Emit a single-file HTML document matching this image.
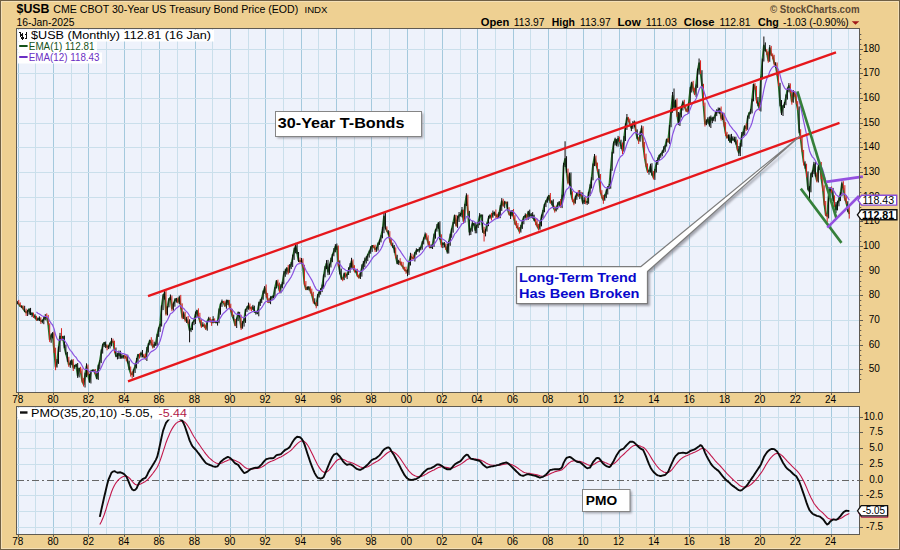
<!DOCTYPE html><html><head><meta charset="utf-8"><title>$USB</title>
<style>html,body{margin:0;padding:0;background:#EED092;}svg{display:block}text{font-family:"Liberation Sans",sans-serif;}</style></head><body>
<svg width="900" height="550" viewBox="0 0 900 550">
<rect x="0" y="0" width="900" height="550" fill="#EED092"/>
<rect x="0.5" y="0.5" width="899" height="549" fill="none" stroke="#6f5f45" stroke-width="1"/>
<rect x="1.5" y="1.5" width="897" height="547" fill="none" stroke="#F4E0B8" stroke-width="1"/>
<rect x="16" y="28" width="844" height="364" fill="#EEF2FB"/>
<line x1="18.5" y1="29" x2="18.5" y2="392" stroke="#A4C9DD" stroke-width="1"/>
<line x1="35.5" y1="29" x2="35.5" y2="392" stroke="#CADFEB" stroke-width="1"/>
<line x1="53.5" y1="29" x2="53.5" y2="392" stroke="#A4C9DD" stroke-width="1"/>
<line x1="71.5" y1="29" x2="71.5" y2="392" stroke="#CADFEB" stroke-width="1"/>
<line x1="88.5" y1="29" x2="88.5" y2="392" stroke="#A4C9DD" stroke-width="1"/>
<line x1="106.5" y1="29" x2="106.5" y2="392" stroke="#CADFEB" stroke-width="1"/>
<line x1="124.5" y1="29" x2="124.5" y2="392" stroke="#A4C9DD" stroke-width="1"/>
<line x1="141.5" y1="29" x2="141.5" y2="392" stroke="#CADFEB" stroke-width="1"/>
<line x1="159.5" y1="29" x2="159.5" y2="392" stroke="#A4C9DD" stroke-width="1"/>
<line x1="177.5" y1="29" x2="177.5" y2="392" stroke="#CADFEB" stroke-width="1"/>
<line x1="195.5" y1="29" x2="195.5" y2="392" stroke="#A4C9DD" stroke-width="1"/>
<line x1="212.5" y1="29" x2="212.5" y2="392" stroke="#CADFEB" stroke-width="1"/>
<line x1="230.5" y1="29" x2="230.5" y2="392" stroke="#A4C9DD" stroke-width="1"/>
<line x1="248.5" y1="29" x2="248.5" y2="392" stroke="#CADFEB" stroke-width="1"/>
<line x1="265.5" y1="29" x2="265.5" y2="392" stroke="#A4C9DD" stroke-width="1"/>
<line x1="283.5" y1="29" x2="283.5" y2="392" stroke="#CADFEB" stroke-width="1"/>
<line x1="301.5" y1="29" x2="301.5" y2="392" stroke="#A4C9DD" stroke-width="1"/>
<line x1="318.5" y1="29" x2="318.5" y2="392" stroke="#CADFEB" stroke-width="1"/>
<line x1="336.5" y1="29" x2="336.5" y2="392" stroke="#A4C9DD" stroke-width="1"/>
<line x1="354.5" y1="29" x2="354.5" y2="392" stroke="#CADFEB" stroke-width="1"/>
<line x1="371.5" y1="29" x2="371.5" y2="392" stroke="#A4C9DD" stroke-width="1"/>
<line x1="389.5" y1="29" x2="389.5" y2="392" stroke="#CADFEB" stroke-width="1"/>
<line x1="407.5" y1="29" x2="407.5" y2="392" stroke="#A4C9DD" stroke-width="1"/>
<line x1="424.5" y1="29" x2="424.5" y2="392" stroke="#CADFEB" stroke-width="1"/>
<line x1="442.5" y1="29" x2="442.5" y2="392" stroke="#A4C9DD" stroke-width="1"/>
<line x1="460.5" y1="29" x2="460.5" y2="392" stroke="#CADFEB" stroke-width="1"/>
<line x1="477.5" y1="29" x2="477.5" y2="392" stroke="#A4C9DD" stroke-width="1"/>
<line x1="495.5" y1="29" x2="495.5" y2="392" stroke="#CADFEB" stroke-width="1"/>
<line x1="513.5" y1="29" x2="513.5" y2="392" stroke="#A4C9DD" stroke-width="1"/>
<line x1="530.5" y1="29" x2="530.5" y2="392" stroke="#CADFEB" stroke-width="1"/>
<line x1="548.5" y1="29" x2="548.5" y2="392" stroke="#A4C9DD" stroke-width="1"/>
<line x1="566.5" y1="29" x2="566.5" y2="392" stroke="#CADFEB" stroke-width="1"/>
<line x1="583.5" y1="29" x2="583.5" y2="392" stroke="#A4C9DD" stroke-width="1"/>
<line x1="601.5" y1="29" x2="601.5" y2="392" stroke="#CADFEB" stroke-width="1"/>
<line x1="619.5" y1="29" x2="619.5" y2="392" stroke="#A4C9DD" stroke-width="1"/>
<line x1="636.5" y1="29" x2="636.5" y2="392" stroke="#CADFEB" stroke-width="1"/>
<line x1="654.5" y1="29" x2="654.5" y2="392" stroke="#A4C9DD" stroke-width="1"/>
<line x1="672.5" y1="29" x2="672.5" y2="392" stroke="#CADFEB" stroke-width="1"/>
<line x1="689.5" y1="29" x2="689.5" y2="392" stroke="#A4C9DD" stroke-width="1"/>
<line x1="707.5" y1="29" x2="707.5" y2="392" stroke="#CADFEB" stroke-width="1"/>
<line x1="725.5" y1="29" x2="725.5" y2="392" stroke="#A4C9DD" stroke-width="1"/>
<line x1="742.5" y1="29" x2="742.5" y2="392" stroke="#CADFEB" stroke-width="1"/>
<line x1="760.5" y1="29" x2="760.5" y2="392" stroke="#A4C9DD" stroke-width="1"/>
<line x1="778.5" y1="29" x2="778.5" y2="392" stroke="#CADFEB" stroke-width="1"/>
<line x1="795.5" y1="29" x2="795.5" y2="392" stroke="#A4C9DD" stroke-width="1"/>
<line x1="813.5" y1="29" x2="813.5" y2="392" stroke="#CADFEB" stroke-width="1"/>
<line x1="831.5" y1="29" x2="831.5" y2="392" stroke="#A4C9DD" stroke-width="1"/>
<line x1="848.5" y1="29" x2="848.5" y2="392" stroke="#CADFEB" stroke-width="1"/>
<line x1="17" y1="369.5" x2="860" y2="369.5" stroke="#CADFEB" stroke-width="1"/>
<line x1="17" y1="345.5" x2="860" y2="345.5" stroke="#CADFEB" stroke-width="1"/>
<line x1="17" y1="320.5" x2="860" y2="320.5" stroke="#CADFEB" stroke-width="1"/>
<line x1="17" y1="295.5" x2="860" y2="295.5" stroke="#CADFEB" stroke-width="1"/>
<line x1="17" y1="271.5" x2="860" y2="271.5" stroke="#CADFEB" stroke-width="1"/>
<line x1="17" y1="246.5" x2="860" y2="246.5" stroke="#CADFEB" stroke-width="1"/>
<line x1="17" y1="221.5" x2="860" y2="221.5" stroke="#CADFEB" stroke-width="1"/>
<line x1="17" y1="197.5" x2="860" y2="197.5" stroke="#CADFEB" stroke-width="1"/>
<line x1="17" y1="172.5" x2="860" y2="172.5" stroke="#CADFEB" stroke-width="1"/>
<line x1="17" y1="147.5" x2="860" y2="147.5" stroke="#CADFEB" stroke-width="1"/>
<line x1="17" y1="123.5" x2="860" y2="123.5" stroke="#CADFEB" stroke-width="1"/>
<line x1="17" y1="98.5" x2="860" y2="98.5" stroke="#CADFEB" stroke-width="1"/>
<line x1="17" y1="73.5" x2="860" y2="73.5" stroke="#CADFEB" stroke-width="1"/>
<line x1="17" y1="49.5" x2="860" y2="49.5" stroke="#CADFEB" stroke-width="1"/>
<rect x="16" y="406" width="844" height="128" fill="#EEF2FB"/>
<line x1="18.5" y1="407" x2="18.5" y2="534" stroke="#A4C9DD" stroke-width="1"/>
<line x1="35.5" y1="407" x2="35.5" y2="534" stroke="#CADFEB" stroke-width="1"/>
<line x1="53.5" y1="407" x2="53.5" y2="534" stroke="#A4C9DD" stroke-width="1"/>
<line x1="71.5" y1="407" x2="71.5" y2="534" stroke="#CADFEB" stroke-width="1"/>
<line x1="88.5" y1="407" x2="88.5" y2="534" stroke="#A4C9DD" stroke-width="1"/>
<line x1="106.5" y1="407" x2="106.5" y2="534" stroke="#CADFEB" stroke-width="1"/>
<line x1="124.5" y1="407" x2="124.5" y2="534" stroke="#A4C9DD" stroke-width="1"/>
<line x1="141.5" y1="407" x2="141.5" y2="534" stroke="#CADFEB" stroke-width="1"/>
<line x1="159.5" y1="407" x2="159.5" y2="534" stroke="#A4C9DD" stroke-width="1"/>
<line x1="177.5" y1="407" x2="177.5" y2="534" stroke="#CADFEB" stroke-width="1"/>
<line x1="195.5" y1="407" x2="195.5" y2="534" stroke="#A4C9DD" stroke-width="1"/>
<line x1="212.5" y1="407" x2="212.5" y2="534" stroke="#CADFEB" stroke-width="1"/>
<line x1="230.5" y1="407" x2="230.5" y2="534" stroke="#A4C9DD" stroke-width="1"/>
<line x1="248.5" y1="407" x2="248.5" y2="534" stroke="#CADFEB" stroke-width="1"/>
<line x1="265.5" y1="407" x2="265.5" y2="534" stroke="#A4C9DD" stroke-width="1"/>
<line x1="283.5" y1="407" x2="283.5" y2="534" stroke="#CADFEB" stroke-width="1"/>
<line x1="301.5" y1="407" x2="301.5" y2="534" stroke="#A4C9DD" stroke-width="1"/>
<line x1="318.5" y1="407" x2="318.5" y2="534" stroke="#CADFEB" stroke-width="1"/>
<line x1="336.5" y1="407" x2="336.5" y2="534" stroke="#A4C9DD" stroke-width="1"/>
<line x1="354.5" y1="407" x2="354.5" y2="534" stroke="#CADFEB" stroke-width="1"/>
<line x1="371.5" y1="407" x2="371.5" y2="534" stroke="#A4C9DD" stroke-width="1"/>
<line x1="389.5" y1="407" x2="389.5" y2="534" stroke="#CADFEB" stroke-width="1"/>
<line x1="407.5" y1="407" x2="407.5" y2="534" stroke="#A4C9DD" stroke-width="1"/>
<line x1="424.5" y1="407" x2="424.5" y2="534" stroke="#CADFEB" stroke-width="1"/>
<line x1="442.5" y1="407" x2="442.5" y2="534" stroke="#A4C9DD" stroke-width="1"/>
<line x1="460.5" y1="407" x2="460.5" y2="534" stroke="#CADFEB" stroke-width="1"/>
<line x1="477.5" y1="407" x2="477.5" y2="534" stroke="#A4C9DD" stroke-width="1"/>
<line x1="495.5" y1="407" x2="495.5" y2="534" stroke="#CADFEB" stroke-width="1"/>
<line x1="513.5" y1="407" x2="513.5" y2="534" stroke="#A4C9DD" stroke-width="1"/>
<line x1="530.5" y1="407" x2="530.5" y2="534" stroke="#CADFEB" stroke-width="1"/>
<line x1="548.5" y1="407" x2="548.5" y2="534" stroke="#A4C9DD" stroke-width="1"/>
<line x1="566.5" y1="407" x2="566.5" y2="534" stroke="#CADFEB" stroke-width="1"/>
<line x1="583.5" y1="407" x2="583.5" y2="534" stroke="#A4C9DD" stroke-width="1"/>
<line x1="601.5" y1="407" x2="601.5" y2="534" stroke="#CADFEB" stroke-width="1"/>
<line x1="619.5" y1="407" x2="619.5" y2="534" stroke="#A4C9DD" stroke-width="1"/>
<line x1="636.5" y1="407" x2="636.5" y2="534" stroke="#CADFEB" stroke-width="1"/>
<line x1="654.5" y1="407" x2="654.5" y2="534" stroke="#A4C9DD" stroke-width="1"/>
<line x1="672.5" y1="407" x2="672.5" y2="534" stroke="#CADFEB" stroke-width="1"/>
<line x1="689.5" y1="407" x2="689.5" y2="534" stroke="#A4C9DD" stroke-width="1"/>
<line x1="707.5" y1="407" x2="707.5" y2="534" stroke="#CADFEB" stroke-width="1"/>
<line x1="725.5" y1="407" x2="725.5" y2="534" stroke="#A4C9DD" stroke-width="1"/>
<line x1="742.5" y1="407" x2="742.5" y2="534" stroke="#CADFEB" stroke-width="1"/>
<line x1="760.5" y1="407" x2="760.5" y2="534" stroke="#A4C9DD" stroke-width="1"/>
<line x1="778.5" y1="407" x2="778.5" y2="534" stroke="#CADFEB" stroke-width="1"/>
<line x1="795.5" y1="407" x2="795.5" y2="534" stroke="#A4C9DD" stroke-width="1"/>
<line x1="813.5" y1="407" x2="813.5" y2="534" stroke="#CADFEB" stroke-width="1"/>
<line x1="831.5" y1="407" x2="831.5" y2="534" stroke="#A4C9DD" stroke-width="1"/>
<line x1="848.5" y1="407" x2="848.5" y2="534" stroke="#CADFEB" stroke-width="1"/>
<line x1="17" y1="417.5" x2="860" y2="417.5" stroke="#CADFEB" stroke-width="1"/>
<line x1="17" y1="432.5" x2="860" y2="432.5" stroke="#CADFEB" stroke-width="1"/>
<line x1="17" y1="448.5" x2="860" y2="448.5" stroke="#CADFEB" stroke-width="1"/>
<line x1="17" y1="464.5" x2="860" y2="464.5" stroke="#CADFEB" stroke-width="1"/>
<line x1="17" y1="495.5" x2="860" y2="495.5" stroke="#CADFEB" stroke-width="1"/>
<line x1="17" y1="511.5" x2="860" y2="511.5" stroke="#CADFEB" stroke-width="1"/>
<line x1="17" y1="527.5" x2="860" y2="527.5" stroke="#CADFEB" stroke-width="1"/>
<defs><clipPath id="c1"><rect x="17" y="29" width="843" height="363"/></clipPath><clipPath id="c2"><rect x="17" y="407" width="843" height="127"/></clipPath>
<filter id="sh" x="-10%" y="-10%" width="130%" height="140%"><feGaussianBlur stdDeviation="0.9"/></filter></defs>
<g clip-path="url(#c1)">
<polyline fill="none" stroke="#267029" stroke-width="1.8" stroke-linejoin="round" points="17.3,302.4 18.8,304.0 20.2,306.3 21.7,306.2 23.2,308.8 24.7,311.1 26.1,312.6 27.6,311.5 29.1,309.2 30.6,314.2 32.0,313.6 33.5,315.8 35.0,316.5 36.4,319.6 37.9,319.2 39.4,318.5 40.9,321.0 42.3,321.1 43.8,319.0 45.3,316.8 46.8,317.7 48.2,323.9 49.7,339.6 51.2,335.7 52.6,333.6 54.1,350.7 55.6,366.8 57.1,361.5 58.5,349.0 60.0,336.3 61.5,338.7 62.9,336.6 64.4,347.3 65.9,353.6 67.4,358.7 68.8,364.7 70.3,363.3 71.8,360.7 73.3,367.8 74.7,365.8 76.2,365.0 77.7,375.6 79.1,368.4 80.6,371.1 82.1,380.7 83.6,384.4 85.0,375.5 86.5,366.2 88.0,374.5 89.5,381.9 90.9,371.5 92.4,370.4 93.9,370.6 95.3,373.8 96.8,378.3 98.3,366.2 99.8,361.2 101.2,352.8 102.7,345.6 104.2,342.8 105.7,345.1 107.1,347.0 108.6,346.3 110.1,343.3 111.5,341.3 113.0,341.7 114.5,350.3 116.0,355.8 117.4,356.0 118.9,353.7 120.4,356.0 121.8,357.2 123.3,355.9 124.8,356.4 126.3,358.0 127.7,361.7 129.2,368.9 130.7,373.4 132.2,374.5 133.6,370.2 135.1,366.5 136.6,360.8 138.0,354.9 139.5,355.7 141.0,353.4 142.5,354.7 143.9,356.6 145.4,358.5 146.9,350.3 148.4,344.7 149.8,340.6 151.3,343.0 152.8,346.7 154.2,344.7 155.7,344.0 157.2,335.1 158.7,328.7 160.1,324.6 161.6,306.8 163.1,296.3 164.6,292.6 166.0,313.6 167.5,306.7 169.0,299.2 170.4,297.4 171.9,308.6 173.4,303.8 174.9,300.4 176.3,298.8 177.8,301.9 179.3,297.7 180.7,305.7 182.2,317.1 183.7,314.0 185.2,319.9 186.6,319.4 188.1,322.6 189.6,330.3 191.1,328.9 192.5,322.7 194.0,320.8 195.5,314.3 196.9,310.8 198.4,316.2 199.9,321.0 201.4,325.9 202.8,325.2 204.3,325.7 205.8,328.6 207.3,321.5 208.7,318.7 210.2,320.0 211.7,322.5 213.1,319.7 214.6,322.2 216.1,322.4 217.6,321.9 219.0,311.4 220.5,304.3 222.0,301.7 223.5,302.5 224.9,305.8 226.4,302.0 227.9,300.6 229.3,305.2 230.8,310.1 232.3,315.9 233.8,319.7 235.2,325.2 236.7,319.1 238.2,312.9 239.6,316.1 241.1,327.6 242.6,323.3 244.1,319.9 245.5,309.9 247.0,308.0 248.5,305.6 250.0,307.9 251.4,308.2 252.9,307.3 254.4,311.8 255.8,311.7 257.3,313.2 258.8,304.7 260.3,301.7 261.7,298.7 263.2,292.4 264.7,287.8 266.2,294.1 267.6,299.5 269.1,302.2 270.6,298.1 272.0,297.1 273.5,295.7 275.0,288.0 276.5,281.0 277.9,284.7 279.4,290.2 280.9,286.8 282.4,283.4 283.8,274.4 285.3,271.5 286.8,268.1 288.2,272.0 289.7,267.0 291.2,264.1 292.7,257.6 294.1,250.7 295.6,246.1 297.1,252.9 298.5,260.5 300.0,261.4 301.5,260.4 303.0,267.6 304.4,283.6 305.9,289.3 307.4,287.7 308.9,287.5 310.3,290.6 311.8,294.4 313.3,300.7 314.7,303.3 316.2,305.5 317.7,296.2 319.2,292.1 320.6,290.7 322.1,287.1 323.6,276.5 325.1,268.0 326.5,263.3 328.0,271.8 329.5,265.6 330.9,261.1 332.4,255.1 333.9,251.4 335.4,246.4 336.8,246.4 338.3,263.5 339.8,271.8 341.3,277.9 342.7,279.2 344.2,273.9 345.7,276.4 347.1,274.1 348.6,270.3 350.1,266.4 351.6,261.0 353.0,267.5 354.5,271.0 356.0,271.8 357.4,275.6 358.9,277.4 360.4,273.6 361.9,267.7 363.3,263.9 364.8,260.8 366.3,258.4 367.8,254.8 369.2,252.3 370.7,248.6 372.2,245.8 373.6,246.1 375.1,249.3 376.6,248.4 378.1,243.9 379.5,241.3 381.0,236.3 382.5,230.0 384.0,216.3 385.4,227.5 386.9,230.9 388.4,233.5 389.8,239.5 391.3,244.2 392.8,246.3 394.3,249.4 395.7,255.9 397.2,263.0 398.7,261.5 400.2,262.2 401.6,265.3 403.1,267.3 404.6,269.7 406.0,270.7 407.5,272.4 409.0,262.9 410.5,256.1 411.9,257.8 413.4,258.2 414.9,253.3 416.3,250.8 417.8,249.9 419.3,249.6 420.8,247.5 422.2,243.2 423.7,239.0 425.2,234.8 426.7,237.7 428.1,242.4 429.6,247.0 431.1,247.0 432.5,245.1 434.0,236.2 435.5,230.4 437.0,227.3 438.4,223.0 439.9,237.2 441.4,244.7 442.9,243.4 444.3,244.4 445.8,247.2 447.3,251.7 448.7,242.5 450.2,236.2 451.7,229.3 453.2,223.1 454.6,215.6 456.1,225.2 457.6,218.7 459.1,215.4 460.5,214.6 462.0,210.3 463.5,221.2 464.9,205.5 466.4,195.9 467.9,211.8 469.4,232.0 470.8,229.9 472.3,223.8 473.8,223.7 475.2,230.1 476.7,226.3 478.2,222.4 479.7,216.0 481.1,215.2 482.6,229.6 484.1,233.1 485.6,230.3 487.0,224.8 488.5,218.3 490.0,215.6 491.4,217.1 492.9,213.8 494.4,212.8 495.9,215.0 497.3,217.0 498.8,215.5 500.3,208.0 501.8,201.1 503.2,205.4 504.7,202.4 506.2,202.7 507.6,209.3 509.1,213.9 510.6,215.5 512.1,211.0 513.5,216.4 515.0,223.2 516.5,225.5 518.0,228.4 519.4,231.5 520.9,227.6 522.4,221.1 523.8,217.1 525.3,215.7 526.8,216.9 528.3,212.0 529.7,215.0 531.2,215.2 532.7,215.3 534.1,219.6 535.6,221.9 537.1,225.7 538.6,228.9 540.0,224.0 541.5,216.8 543.0,211.2 544.5,204.8 545.9,201.5 547.4,199.1 548.9,195.6 550.3,202.5 551.8,201.4 553.3,207.4 554.8,210.4 556.2,207.7 557.7,204.7 559.2,202.4 560.7,206.4 562.1,196.3 563.6,165.9 565.1,158.9 566.5,171.8 568.0,182.6 569.5,174.3 571.0,193.5 572.4,199.5 573.9,202.8 575.4,197.7 576.9,193.5 578.3,195.7 579.8,192.9 581.3,195.8 582.7,202.4 584.2,200.5 585.7,201.9 587.2,202.1 588.6,193.1 590.1,187.3 591.6,178.3 593.0,165.2 594.5,156.7 596.0,163.2 597.5,169.7 598.9,176.3 600.4,191.6 601.9,196.8 603.4,200.1 604.8,196.1 606.3,191.7 607.8,187.3 609.2,186.8 610.7,169.9 612.2,152.8 613.7,143.3 615.1,139.5 616.6,143.9 618.1,138.6 619.6,141.3 621.0,145.6 622.5,150.6 624.0,139.0 625.4,126.7 626.9,117.9 628.4,119.2 629.9,124.6 631.3,128.0 632.8,124.2 634.3,122.5 635.8,130.8 637.2,138.1 638.7,140.7 640.2,134.5 641.6,128.3 643.1,145.0 644.6,156.8 646.1,165.7 647.5,171.2 649.0,171.0 650.5,166.0 651.9,173.8 653.4,177.5 654.9,170.3 656.4,163.5 657.8,160.0 659.3,155.4 660.8,154.3 662.3,152.2 663.7,149.4 665.2,146.1 666.7,139.5 668.1,141.7 669.6,126.0 671.1,110.8 672.6,95.5 674.0,107.0 675.5,100.7 677.0,113.7 678.5,123.8 679.9,115.1 681.4,107.2 682.9,102.4 684.3,106.0 685.8,109.6 687.3,111.5 688.8,103.2 690.2,90.2 691.7,82.8 693.2,88.8 694.6,93.8 696.1,85.2 697.6,71.5 699.1,63.1 700.5,72.0 702.0,85.0 703.5,105.3 705.0,123.9 706.4,122.0 707.9,119.3 709.4,124.6 710.8,117.9 712.3,120.0 713.8,118.1 715.3,114.6 716.7,111.9 718.2,110.6 719.7,108.9 721.2,118.1 722.6,115.8 724.1,124.0 725.6,133.3 727.0,137.5 728.5,135.4 730.0,141.9 731.5,137.2 732.9,139.9 734.4,139.3 735.9,141.8 737.4,149.0 738.8,152.8 740.3,145.9 741.8,135.3 743.2,132.5 744.7,126.2 746.2,128.5 747.7,118.0 749.1,113.2 750.6,111.6 752.1,100.1 753.6,84.4 755.0,87.3 756.5,100.0 758.0,103.8 759.4,108.9 760.9,78.3 762.4,60.7 763.9,45.4 765.3,50.2 766.8,52.1 768.3,60.7 769.7,47.9 771.2,54.7 772.7,55.9 774.2,63.0 775.6,65.3 777.1,73.6 778.6,84.6 780.1,103.2 781.5,112.8 783.0,106.4 784.5,104.0 785.9,97.6 787.4,89.5 788.9,85.9 790.4,91.3 791.8,101.7 793.3,92.8 794.8,94.0 796.3,102.3 797.7,109.0 799.2,130.2 800.7,139.0 802.1,151.0 803.6,162.1 805.1,165.3 806.6,174.1 808.0,188.6 809.5,191.7 811.0,174.4 812.5,172.1 813.9,164.5 815.4,174.8 816.9,180.7 818.3,167.3 819.8,163.8 821.3,178.0 822.8,188.4 824.2,202.9 825.7,214.7 827.2,216.0 828.6,195.9 830.1,188.4 831.6,190.4 833.1,197.7 834.5,204.0 836.0,209.5 837.5,203.0 839.0,200.3 840.4,194.3 841.9,183.8 843.4,188.2 844.8,198.5 846.3,202.8 847.8,209.4 849.3,214.1"/>
<line x1="17.30" y1="300.9" x2="17.30" y2="304.3" stroke="#0c0c0c" stroke-width="1.0"/>
<line x1="18.77" y1="299.9" x2="18.77" y2="304.7" stroke="#d8201c" stroke-width="1.0"/>
<line x1="20.25" y1="302.4" x2="20.25" y2="307.0" stroke="#d8201c" stroke-width="1.0"/>
<line x1="21.72" y1="305.6" x2="21.72" y2="308.1" stroke="#0c0c0c" stroke-width="1.0"/>
<line x1="23.19" y1="305.5" x2="23.19" y2="309.6" stroke="#d8201c" stroke-width="1.0"/>
<line x1="24.66" y1="305.8" x2="24.66" y2="312.0" stroke="#0c0c0c" stroke-width="1.0"/>
<line x1="26.14" y1="308.7" x2="26.14" y2="315.9" stroke="#d8201c" stroke-width="1.0"/>
<line x1="27.61" y1="309.8" x2="27.61" y2="316.0" stroke="#0c0c0c" stroke-width="1.0"/>
<line x1="29.08" y1="308.6" x2="29.08" y2="314.6" stroke="#0c0c0c" stroke-width="1.0"/>
<line x1="30.55" y1="307.9" x2="30.55" y2="315.1" stroke="#0c0c0c" stroke-width="1.0"/>
<line x1="32.03" y1="312.2" x2="32.03" y2="317.1" stroke="#0c0c0c" stroke-width="1.0"/>
<line x1="33.50" y1="312.6" x2="33.50" y2="318.0" stroke="#d8201c" stroke-width="1.0"/>
<line x1="34.97" y1="314.2" x2="34.97" y2="318.7" stroke="#0c0c0c" stroke-width="1.0"/>
<line x1="36.44" y1="315.8" x2="36.44" y2="320.7" stroke="#d8201c" stroke-width="1.0"/>
<line x1="37.92" y1="317.4" x2="37.92" y2="321.0" stroke="#0c0c0c" stroke-width="1.0"/>
<line x1="39.39" y1="316.3" x2="39.39" y2="321.1" stroke="#0c0c0c" stroke-width="1.0"/>
<line x1="40.86" y1="317.2" x2="40.86" y2="323.9" stroke="#d8201c" stroke-width="1.0"/>
<line x1="42.33" y1="319.7" x2="42.33" y2="323.3" stroke="#0c0c0c" stroke-width="1.0"/>
<line x1="43.81" y1="316.9" x2="43.81" y2="324.2" stroke="#0c0c0c" stroke-width="1.0"/>
<line x1="45.28" y1="314.1" x2="45.28" y2="320.3" stroke="#0c0c0c" stroke-width="1.0"/>
<line x1="46.75" y1="313.4" x2="46.75" y2="318.5" stroke="#d8201c" stroke-width="1.0"/>
<line x1="48.22" y1="314.9" x2="48.22" y2="324.9" stroke="#d8201c" stroke-width="1.0"/>
<line x1="49.70" y1="323.3" x2="49.70" y2="342.1" stroke="#d8201c" stroke-width="1.0"/>
<line x1="51.17" y1="333.5" x2="51.17" y2="342.8" stroke="#0c0c0c" stroke-width="1.0"/>
<line x1="52.64" y1="332.1" x2="52.64" y2="338.3" stroke="#0c0c0c" stroke-width="1.0"/>
<line x1="54.11" y1="331.3" x2="54.11" y2="353.0" stroke="#d8201c" stroke-width="1.0"/>
<line x1="55.59" y1="347.7" x2="55.59" y2="370.2" stroke="#d8201c" stroke-width="1.0"/>
<line x1="57.06" y1="359.0" x2="57.06" y2="367.5" stroke="#0c0c0c" stroke-width="1.0"/>
<line x1="58.53" y1="346.4" x2="58.53" y2="363.9" stroke="#0c0c0c" stroke-width="1.0"/>
<line x1="60.00" y1="332.9" x2="60.00" y2="352.0" stroke="#0c0c0c" stroke-width="1.0"/>
<line x1="61.48" y1="328.2" x2="61.48" y2="340.4" stroke="#d8201c" stroke-width="1.0"/>
<line x1="62.95" y1="336.1" x2="62.95" y2="340.6" stroke="#0c0c0c" stroke-width="1.0"/>
<line x1="64.42" y1="335.6" x2="64.42" y2="348.2" stroke="#0c0c0c" stroke-width="1.0"/>
<line x1="65.89" y1="344.5" x2="65.89" y2="354.5" stroke="#0c0c0c" stroke-width="1.0"/>
<line x1="67.37" y1="351.9" x2="67.37" y2="361.8" stroke="#0c0c0c" stroke-width="1.0"/>
<line x1="68.84" y1="356.8" x2="68.84" y2="366.9" stroke="#d8201c" stroke-width="1.0"/>
<line x1="70.31" y1="360.4" x2="70.31" y2="367.8" stroke="#0c0c0c" stroke-width="1.0"/>
<line x1="71.78" y1="359.4" x2="71.78" y2="365.1" stroke="#0c0c0c" stroke-width="1.0"/>
<line x1="73.26" y1="359.1" x2="73.26" y2="371.0" stroke="#d8201c" stroke-width="1.0"/>
<line x1="74.73" y1="364.9" x2="74.73" y2="368.9" stroke="#0c0c0c" stroke-width="1.0"/>
<line x1="76.20" y1="363.8" x2="76.20" y2="367.0" stroke="#0c0c0c" stroke-width="1.0"/>
<line x1="77.67" y1="363.0" x2="77.67" y2="377.9" stroke="#0c0c0c" stroke-width="1.0"/>
<line x1="79.15" y1="367.9" x2="79.15" y2="377.4" stroke="#0c0c0c" stroke-width="1.0"/>
<line x1="80.62" y1="366.8" x2="80.62" y2="373.3" stroke="#d8201c" stroke-width="1.0"/>
<line x1="82.09" y1="368.5" x2="82.09" y2="382.7" stroke="#d8201c" stroke-width="1.0"/>
<line x1="83.56" y1="378.1" x2="83.56" y2="386.5" stroke="#d8201c" stroke-width="1.0"/>
<line x1="85.04" y1="372.7" x2="85.04" y2="387.5" stroke="#0c0c0c" stroke-width="1.0"/>
<line x1="86.51" y1="363.3" x2="86.51" y2="377.2" stroke="#0c0c0c" stroke-width="1.0"/>
<line x1="87.98" y1="364.5" x2="87.98" y2="375.3" stroke="#d8201c" stroke-width="1.0"/>
<line x1="89.45" y1="373.8" x2="89.45" y2="382.6" stroke="#0c0c0c" stroke-width="1.0"/>
<line x1="90.92" y1="370.5" x2="90.92" y2="383.5" stroke="#0c0c0c" stroke-width="1.0"/>
<line x1="92.40" y1="369.7" x2="92.40" y2="372.0" stroke="#0c0c0c" stroke-width="1.0"/>
<line x1="93.87" y1="369.4" x2="93.87" y2="371.4" stroke="#0c0c0c" stroke-width="1.0"/>
<line x1="95.34" y1="369.0" x2="95.34" y2="374.3" stroke="#d8201c" stroke-width="1.0"/>
<line x1="96.82" y1="371.4" x2="96.82" y2="379.2" stroke="#0c0c0c" stroke-width="1.0"/>
<line x1="98.29" y1="364.7" x2="98.29" y2="379.9" stroke="#0c0c0c" stroke-width="1.0"/>
<line x1="99.76" y1="360.3" x2="99.76" y2="369.2" stroke="#0c0c0c" stroke-width="1.0"/>
<line x1="101.23" y1="349.4" x2="101.23" y2="363.1" stroke="#0c0c0c" stroke-width="1.0"/>
<line x1="102.70" y1="343.6" x2="102.70" y2="353.6" stroke="#0c0c0c" stroke-width="1.0"/>
<line x1="104.18" y1="342.0" x2="104.18" y2="347.1" stroke="#0c0c0c" stroke-width="1.0"/>
<line x1="105.65" y1="341.5" x2="105.65" y2="348.1" stroke="#0c0c0c" stroke-width="1.0"/>
<line x1="107.12" y1="344.5" x2="107.12" y2="350.3" stroke="#d8201c" stroke-width="1.0"/>
<line x1="108.60" y1="345.4" x2="108.60" y2="349.1" stroke="#0c0c0c" stroke-width="1.0"/>
<line x1="110.07" y1="342.7" x2="110.07" y2="348.4" stroke="#0c0c0c" stroke-width="1.0"/>
<line x1="111.54" y1="337.9" x2="111.54" y2="346.3" stroke="#0c0c0c" stroke-width="1.0"/>
<line x1="113.01" y1="338.7" x2="113.01" y2="343.0" stroke="#d8201c" stroke-width="1.0"/>
<line x1="114.48" y1="340.7" x2="114.48" y2="353.1" stroke="#d8201c" stroke-width="1.0"/>
<line x1="115.96" y1="347.5" x2="115.96" y2="357.2" stroke="#0c0c0c" stroke-width="1.0"/>
<line x1="117.43" y1="352.8" x2="117.43" y2="359.4" stroke="#0c0c0c" stroke-width="1.0"/>
<line x1="118.90" y1="350.6" x2="118.90" y2="358.9" stroke="#0c0c0c" stroke-width="1.0"/>
<line x1="120.38" y1="350.7" x2="120.38" y2="358.8" stroke="#0c0c0c" stroke-width="1.0"/>
<line x1="121.85" y1="354.0" x2="121.85" y2="358.8" stroke="#0c0c0c" stroke-width="1.0"/>
<line x1="123.32" y1="355.3" x2="123.32" y2="358.6" stroke="#0c0c0c" stroke-width="1.0"/>
<line x1="124.79" y1="354.6" x2="124.79" y2="359.0" stroke="#d8201c" stroke-width="1.0"/>
<line x1="126.27" y1="354.6" x2="126.27" y2="361.3" stroke="#d8201c" stroke-width="1.0"/>
<line x1="127.74" y1="354.7" x2="127.74" y2="363.3" stroke="#0c0c0c" stroke-width="1.0"/>
<line x1="129.21" y1="360.6" x2="129.21" y2="370.0" stroke="#0c0c0c" stroke-width="1.0"/>
<line x1="130.68" y1="366.5" x2="130.68" y2="376.6" stroke="#d8201c" stroke-width="1.0"/>
<line x1="132.16" y1="371.4" x2="132.16" y2="378.5" stroke="#d8201c" stroke-width="1.0"/>
<line x1="133.63" y1="369.4" x2="133.63" y2="376.9" stroke="#0c0c0c" stroke-width="1.0"/>
<line x1="135.10" y1="363.3" x2="135.10" y2="373.0" stroke="#0c0c0c" stroke-width="1.0"/>
<line x1="136.57" y1="358.0" x2="136.57" y2="368.5" stroke="#0c0c0c" stroke-width="1.0"/>
<line x1="138.05" y1="353.9" x2="138.05" y2="363.6" stroke="#0c0c0c" stroke-width="1.0"/>
<line x1="139.52" y1="353.4" x2="139.52" y2="358.6" stroke="#d8201c" stroke-width="1.0"/>
<line x1="140.99" y1="351.7" x2="140.99" y2="357.4" stroke="#0c0c0c" stroke-width="1.0"/>
<line x1="142.46" y1="350.0" x2="142.46" y2="357.4" stroke="#0c0c0c" stroke-width="1.0"/>
<line x1="143.94" y1="353.8" x2="143.94" y2="357.5" stroke="#d8201c" stroke-width="1.0"/>
<line x1="145.41" y1="353.6" x2="145.41" y2="359.5" stroke="#d8201c" stroke-width="1.0"/>
<line x1="146.88" y1="346.9" x2="146.88" y2="361.0" stroke="#0c0c0c" stroke-width="1.0"/>
<line x1="148.35" y1="343.1" x2="148.35" y2="352.5" stroke="#0c0c0c" stroke-width="1.0"/>
<line x1="149.83" y1="339.7" x2="149.83" y2="345.2" stroke="#0c0c0c" stroke-width="1.0"/>
<line x1="151.30" y1="337.2" x2="151.30" y2="345.4" stroke="#d8201c" stroke-width="1.0"/>
<line x1="152.77" y1="339.7" x2="152.77" y2="348.5" stroke="#d8201c" stroke-width="1.0"/>
<line x1="154.24" y1="341.7" x2="154.24" y2="347.8" stroke="#0c0c0c" stroke-width="1.0"/>
<line x1="155.72" y1="342.7" x2="155.72" y2="346.0" stroke="#0c0c0c" stroke-width="1.0"/>
<line x1="157.19" y1="333.9" x2="157.19" y2="346.3" stroke="#0c0c0c" stroke-width="1.0"/>
<line x1="158.66" y1="327.4" x2="158.66" y2="336.9" stroke="#0c0c0c" stroke-width="1.0"/>
<line x1="160.13" y1="323.7" x2="160.13" y2="331.9" stroke="#0c0c0c" stroke-width="1.0"/>
<line x1="161.61" y1="305.3" x2="161.61" y2="326.5" stroke="#0c0c0c" stroke-width="1.0"/>
<line x1="163.08" y1="294.1" x2="163.08" y2="310.1" stroke="#0c0c0c" stroke-width="1.0"/>
<line x1="164.55" y1="290.3" x2="164.55" y2="299.6" stroke="#0c0c0c" stroke-width="1.0"/>
<line x1="166.02" y1="290.6" x2="166.02" y2="315.6" stroke="#d8201c" stroke-width="1.0"/>
<line x1="167.50" y1="306.2" x2="167.50" y2="315.4" stroke="#0c0c0c" stroke-width="1.0"/>
<line x1="168.97" y1="298.1" x2="168.97" y2="307.3" stroke="#0c0c0c" stroke-width="1.0"/>
<line x1="170.44" y1="294.5" x2="170.44" y2="300.2" stroke="#0c0c0c" stroke-width="1.0"/>
<line x1="171.91" y1="295.5" x2="171.91" y2="311.2" stroke="#d8201c" stroke-width="1.0"/>
<line x1="173.39" y1="302.4" x2="173.39" y2="310.6" stroke="#0c0c0c" stroke-width="1.0"/>
<line x1="174.86" y1="298.3" x2="174.86" y2="306.7" stroke="#0c0c0c" stroke-width="1.0"/>
<line x1="176.33" y1="298.0" x2="176.33" y2="302.6" stroke="#0c0c0c" stroke-width="1.0"/>
<line x1="177.80" y1="297.6" x2="177.80" y2="303.2" stroke="#d8201c" stroke-width="1.0"/>
<line x1="179.28" y1="295.7" x2="179.28" y2="304.1" stroke="#0c0c0c" stroke-width="1.0"/>
<line x1="180.75" y1="294.9" x2="180.75" y2="308.9" stroke="#d8201c" stroke-width="1.0"/>
<line x1="182.22" y1="303.4" x2="182.22" y2="319.2" stroke="#d8201c" stroke-width="1.0"/>
<line x1="183.69" y1="311.5" x2="183.69" y2="319.0" stroke="#0c0c0c" stroke-width="1.0"/>
<line x1="185.17" y1="311.9" x2="185.17" y2="321.8" stroke="#d8201c" stroke-width="1.0"/>
<line x1="186.64" y1="316.8" x2="186.64" y2="323.0" stroke="#0c0c0c" stroke-width="1.0"/>
<line x1="188.11" y1="316.0" x2="188.11" y2="323.9" stroke="#d8201c" stroke-width="1.0"/>
<line x1="189.58" y1="319.3" x2="189.58" y2="342.3" stroke="#0c0c0c" stroke-width="1.0"/>
<line x1="191.06" y1="328.0" x2="191.06" y2="332.1" stroke="#0c0c0c" stroke-width="1.0"/>
<line x1="192.53" y1="322.0" x2="192.53" y2="330.1" stroke="#0c0c0c" stroke-width="1.0"/>
<line x1="194.00" y1="320.1" x2="194.00" y2="325.2" stroke="#0c0c0c" stroke-width="1.0"/>
<line x1="195.47" y1="311.5" x2="195.47" y2="324.0" stroke="#0c0c0c" stroke-width="1.0"/>
<line x1="196.95" y1="309.8" x2="196.95" y2="317.0" stroke="#0c0c0c" stroke-width="1.0"/>
<line x1="198.42" y1="308.3" x2="198.42" y2="317.2" stroke="#d8201c" stroke-width="1.0"/>
<line x1="199.89" y1="312.8" x2="199.89" y2="322.1" stroke="#d8201c" stroke-width="1.0"/>
<line x1="201.36" y1="319.3" x2="201.36" y2="327.9" stroke="#d8201c" stroke-width="1.0"/>
<line x1="202.84" y1="322.2" x2="202.84" y2="326.9" stroke="#0c0c0c" stroke-width="1.0"/>
<line x1="204.31" y1="323.4" x2="204.31" y2="327.7" stroke="#d8201c" stroke-width="1.0"/>
<line x1="205.78" y1="324.6" x2="205.78" y2="330.0" stroke="#d8201c" stroke-width="1.0"/>
<line x1="207.25" y1="321.0" x2="207.25" y2="330.7" stroke="#0c0c0c" stroke-width="1.0"/>
<line x1="208.73" y1="316.8" x2="208.73" y2="322.1" stroke="#0c0c0c" stroke-width="1.0"/>
<line x1="210.20" y1="317.2" x2="210.20" y2="322.4" stroke="#d8201c" stroke-width="1.0"/>
<line x1="211.67" y1="319.3" x2="211.67" y2="325.9" stroke="#d8201c" stroke-width="1.0"/>
<line x1="213.14" y1="316.2" x2="213.14" y2="323.3" stroke="#0c0c0c" stroke-width="1.0"/>
<line x1="214.62" y1="318.4" x2="214.62" y2="322.8" stroke="#d8201c" stroke-width="1.0"/>
<line x1="216.09" y1="320.9" x2="216.09" y2="323.3" stroke="#0c0c0c" stroke-width="1.0"/>
<line x1="217.56" y1="320.2" x2="217.56" y2="325.6" stroke="#0c0c0c" stroke-width="1.0"/>
<line x1="219.03" y1="308.5" x2="219.03" y2="323.2" stroke="#0c0c0c" stroke-width="1.0"/>
<line x1="220.51" y1="303.4" x2="220.51" y2="314.7" stroke="#0c0c0c" stroke-width="1.0"/>
<line x1="221.98" y1="299.5" x2="221.98" y2="306.9" stroke="#0c0c0c" stroke-width="1.0"/>
<line x1="223.45" y1="300.9" x2="223.45" y2="303.2" stroke="#d8201c" stroke-width="1.0"/>
<line x1="224.92" y1="300.7" x2="224.92" y2="306.5" stroke="#d8201c" stroke-width="1.0"/>
<line x1="226.40" y1="299.6" x2="226.40" y2="308.7" stroke="#0c0c0c" stroke-width="1.0"/>
<line x1="227.87" y1="299.8" x2="227.87" y2="305.1" stroke="#0c0c0c" stroke-width="1.0"/>
<line x1="229.34" y1="299.9" x2="229.34" y2="308.3" stroke="#d8201c" stroke-width="1.0"/>
<line x1="230.81" y1="303.7" x2="230.81" y2="312.2" stroke="#d8201c" stroke-width="1.0"/>
<line x1="232.29" y1="308.8" x2="232.29" y2="316.7" stroke="#d8201c" stroke-width="1.0"/>
<line x1="233.76" y1="314.6" x2="233.76" y2="320.5" stroke="#0c0c0c" stroke-width="1.0"/>
<line x1="235.23" y1="319.0" x2="235.23" y2="326.3" stroke="#d8201c" stroke-width="1.0"/>
<line x1="236.70" y1="317.7" x2="236.70" y2="328.0" stroke="#0c0c0c" stroke-width="1.0"/>
<line x1="238.18" y1="311.5" x2="238.18" y2="321.1" stroke="#0c0c0c" stroke-width="1.0"/>
<line x1="239.65" y1="311.9" x2="239.65" y2="317.6" stroke="#0c0c0c" stroke-width="1.0"/>
<line x1="241.12" y1="314.8" x2="241.12" y2="330.0" stroke="#d8201c" stroke-width="1.0"/>
<line x1="242.59" y1="321.1" x2="242.59" y2="328.7" stroke="#0c0c0c" stroke-width="1.0"/>
<line x1="244.07" y1="318.0" x2="244.07" y2="326.6" stroke="#0c0c0c" stroke-width="1.0"/>
<line x1="245.54" y1="309.1" x2="245.54" y2="322.9" stroke="#0c0c0c" stroke-width="1.0"/>
<line x1="247.01" y1="306.2" x2="247.01" y2="311.9" stroke="#0c0c0c" stroke-width="1.0"/>
<line x1="248.48" y1="302.6" x2="248.48" y2="309.7" stroke="#0c0c0c" stroke-width="1.0"/>
<line x1="249.96" y1="303.5" x2="249.96" y2="310.5" stroke="#d8201c" stroke-width="1.0"/>
<line x1="251.43" y1="306.4" x2="251.43" y2="311.2" stroke="#d8201c" stroke-width="1.0"/>
<line x1="252.90" y1="304.9" x2="252.90" y2="310.0" stroke="#0c0c0c" stroke-width="1.0"/>
<line x1="254.37" y1="305.7" x2="254.37" y2="312.5" stroke="#0c0c0c" stroke-width="1.0"/>
<line x1="255.85" y1="311.0" x2="255.85" y2="314.6" stroke="#0c0c0c" stroke-width="1.0"/>
<line x1="257.32" y1="310.4" x2="257.32" y2="314.2" stroke="#0c0c0c" stroke-width="1.0"/>
<line x1="258.79" y1="301.7" x2="258.79" y2="316.3" stroke="#0c0c0c" stroke-width="1.0"/>
<line x1="260.26" y1="299.2" x2="260.26" y2="306.0" stroke="#0c0c0c" stroke-width="1.0"/>
<line x1="261.74" y1="297.5" x2="261.74" y2="303.1" stroke="#0c0c0c" stroke-width="1.0"/>
<line x1="263.21" y1="290.5" x2="263.21" y2="299.7" stroke="#0c0c0c" stroke-width="1.0"/>
<line x1="264.68" y1="286.0" x2="264.68" y2="293.7" stroke="#0c0c0c" stroke-width="1.0"/>
<line x1="266.15" y1="284.5" x2="266.15" y2="297.6" stroke="#d8201c" stroke-width="1.0"/>
<line x1="267.62" y1="292.9" x2="267.62" y2="302.9" stroke="#d8201c" stroke-width="1.0"/>
<line x1="269.10" y1="297.9" x2="269.10" y2="302.7" stroke="#d8201c" stroke-width="1.0"/>
<line x1="270.57" y1="296.2" x2="270.57" y2="304.2" stroke="#0c0c0c" stroke-width="1.0"/>
<line x1="272.04" y1="296.0" x2="272.04" y2="300.1" stroke="#0c0c0c" stroke-width="1.0"/>
<line x1="273.52" y1="295.2" x2="273.52" y2="298.4" stroke="#0c0c0c" stroke-width="1.0"/>
<line x1="274.99" y1="287.2" x2="274.99" y2="297.4" stroke="#0c0c0c" stroke-width="1.0"/>
<line x1="276.46" y1="280.4" x2="276.46" y2="288.5" stroke="#0c0c0c" stroke-width="1.0"/>
<line x1="277.93" y1="279.6" x2="277.93" y2="285.9" stroke="#d8201c" stroke-width="1.0"/>
<line x1="279.41" y1="282.6" x2="279.41" y2="292.9" stroke="#d8201c" stroke-width="1.0"/>
<line x1="280.88" y1="284.2" x2="280.88" y2="293.3" stroke="#0c0c0c" stroke-width="1.0"/>
<line x1="282.35" y1="281.8" x2="282.35" y2="288.3" stroke="#0c0c0c" stroke-width="1.0"/>
<line x1="283.82" y1="270.9" x2="283.82" y2="284.4" stroke="#0c0c0c" stroke-width="1.0"/>
<line x1="285.30" y1="268.8" x2="285.30" y2="276.8" stroke="#0c0c0c" stroke-width="1.0"/>
<line x1="286.77" y1="267.5" x2="286.77" y2="274.5" stroke="#0c0c0c" stroke-width="1.0"/>
<line x1="288.24" y1="264.9" x2="288.24" y2="274.4" stroke="#d8201c" stroke-width="1.0"/>
<line x1="289.71" y1="264.1" x2="289.71" y2="272.9" stroke="#0c0c0c" stroke-width="1.0"/>
<line x1="291.19" y1="262.1" x2="291.19" y2="269.1" stroke="#0c0c0c" stroke-width="1.0"/>
<line x1="292.66" y1="254.6" x2="292.66" y2="267.0" stroke="#0c0c0c" stroke-width="1.0"/>
<line x1="294.13" y1="247.7" x2="294.13" y2="259.9" stroke="#0c0c0c" stroke-width="1.0"/>
<line x1="295.60" y1="242.9" x2="295.60" y2="253.3" stroke="#0c0c0c" stroke-width="1.0"/>
<line x1="297.08" y1="243.5" x2="297.08" y2="254.1" stroke="#0c0c0c" stroke-width="1.0"/>
<line x1="298.55" y1="252.0" x2="298.55" y2="262.1" stroke="#0c0c0c" stroke-width="1.0"/>
<line x1="300.02" y1="257.5" x2="300.02" y2="263.6" stroke="#d8201c" stroke-width="1.0"/>
<line x1="301.49" y1="258.0" x2="301.49" y2="264.0" stroke="#0c0c0c" stroke-width="1.0"/>
<line x1="302.97" y1="258.4" x2="302.97" y2="268.1" stroke="#d8201c" stroke-width="1.0"/>
<line x1="304.44" y1="264.8" x2="304.44" y2="285.6" stroke="#d8201c" stroke-width="1.0"/>
<line x1="305.91" y1="281.1" x2="305.91" y2="290.0" stroke="#d8201c" stroke-width="1.0"/>
<line x1="307.38" y1="286.5" x2="307.38" y2="290.1" stroke="#0c0c0c" stroke-width="1.0"/>
<line x1="308.86" y1="286.2" x2="308.86" y2="290.4" stroke="#0c0c0c" stroke-width="1.0"/>
<line x1="310.33" y1="286.4" x2="310.33" y2="293.3" stroke="#d8201c" stroke-width="1.0"/>
<line x1="311.80" y1="288.6" x2="311.80" y2="296.0" stroke="#d8201c" stroke-width="1.0"/>
<line x1="313.27" y1="291.8" x2="313.27" y2="303.5" stroke="#d8201c" stroke-width="1.0"/>
<line x1="314.75" y1="298.3" x2="314.75" y2="304.0" stroke="#0c0c0c" stroke-width="1.0"/>
<line x1="316.22" y1="302.0" x2="316.22" y2="308.3" stroke="#d8201c" stroke-width="1.0"/>
<line x1="317.69" y1="294.0" x2="317.69" y2="306.1" stroke="#0c0c0c" stroke-width="1.0"/>
<line x1="319.16" y1="291.4" x2="319.16" y2="297.5" stroke="#0c0c0c" stroke-width="1.0"/>
<line x1="320.64" y1="288.2" x2="320.64" y2="294.7" stroke="#0c0c0c" stroke-width="1.0"/>
<line x1="322.11" y1="284.6" x2="322.11" y2="292.1" stroke="#0c0c0c" stroke-width="1.0"/>
<line x1="323.58" y1="274.4" x2="323.58" y2="289.0" stroke="#0c0c0c" stroke-width="1.0"/>
<line x1="325.05" y1="266.1" x2="325.05" y2="277.3" stroke="#0c0c0c" stroke-width="1.0"/>
<line x1="326.53" y1="260.1" x2="326.53" y2="269.1" stroke="#0c0c0c" stroke-width="1.0"/>
<line x1="328.00" y1="259.9" x2="328.00" y2="275.1" stroke="#0c0c0c" stroke-width="1.0"/>
<line x1="329.47" y1="263.8" x2="329.47" y2="274.7" stroke="#0c0c0c" stroke-width="1.0"/>
<line x1="330.94" y1="257.7" x2="330.94" y2="267.5" stroke="#0c0c0c" stroke-width="1.0"/>
<line x1="332.42" y1="253.8" x2="332.42" y2="262.2" stroke="#0c0c0c" stroke-width="1.0"/>
<line x1="333.89" y1="248.1" x2="333.89" y2="256.3" stroke="#0c0c0c" stroke-width="1.0"/>
<line x1="335.36" y1="244.1" x2="335.36" y2="252.3" stroke="#0c0c0c" stroke-width="1.0"/>
<line x1="336.83" y1="243.5" x2="336.83" y2="249.8" stroke="#0c0c0c" stroke-width="1.0"/>
<line x1="338.31" y1="245.5" x2="338.31" y2="266.5" stroke="#d8201c" stroke-width="1.0"/>
<line x1="339.78" y1="260.4" x2="339.78" y2="274.4" stroke="#0c0c0c" stroke-width="1.0"/>
<line x1="341.25" y1="268.6" x2="341.25" y2="279.8" stroke="#0c0c0c" stroke-width="1.0"/>
<line x1="342.72" y1="277.4" x2="342.72" y2="281.2" stroke="#d8201c" stroke-width="1.0"/>
<line x1="344.20" y1="272.5" x2="344.20" y2="280.1" stroke="#0c0c0c" stroke-width="1.0"/>
<line x1="345.67" y1="272.4" x2="345.67" y2="277.8" stroke="#d8201c" stroke-width="1.0"/>
<line x1="347.14" y1="273.6" x2="347.14" y2="279.1" stroke="#0c0c0c" stroke-width="1.0"/>
<line x1="348.61" y1="267.3" x2="348.61" y2="275.0" stroke="#0c0c0c" stroke-width="1.0"/>
<line x1="350.09" y1="263.1" x2="350.09" y2="272.9" stroke="#0c0c0c" stroke-width="1.0"/>
<line x1="351.56" y1="257.8" x2="351.56" y2="267.8" stroke="#0c0c0c" stroke-width="1.0"/>
<line x1="353.03" y1="259.4" x2="353.03" y2="269.2" stroke="#d8201c" stroke-width="1.0"/>
<line x1="354.50" y1="265.2" x2="354.50" y2="272.5" stroke="#d8201c" stroke-width="1.0"/>
<line x1="355.98" y1="269.6" x2="355.98" y2="272.5" stroke="#0c0c0c" stroke-width="1.0"/>
<line x1="357.45" y1="268.8" x2="357.45" y2="277.0" stroke="#d8201c" stroke-width="1.0"/>
<line x1="358.92" y1="274.4" x2="358.92" y2="278.7" stroke="#d8201c" stroke-width="1.0"/>
<line x1="360.39" y1="272.5" x2="360.39" y2="279.0" stroke="#0c0c0c" stroke-width="1.0"/>
<line x1="361.87" y1="264.3" x2="361.87" y2="276.7" stroke="#0c0c0c" stroke-width="1.0"/>
<line x1="363.34" y1="260.9" x2="363.34" y2="270.1" stroke="#0c0c0c" stroke-width="1.0"/>
<line x1="364.81" y1="257.6" x2="364.81" y2="267.2" stroke="#0c0c0c" stroke-width="1.0"/>
<line x1="366.28" y1="256.2" x2="366.28" y2="263.5" stroke="#0c0c0c" stroke-width="1.0"/>
<line x1="367.76" y1="254.2" x2="367.76" y2="261.1" stroke="#0c0c0c" stroke-width="1.0"/>
<line x1="369.23" y1="250.5" x2="369.23" y2="257.6" stroke="#0c0c0c" stroke-width="1.0"/>
<line x1="370.70" y1="246.2" x2="370.70" y2="253.7" stroke="#0c0c0c" stroke-width="1.0"/>
<line x1="372.17" y1="245.1" x2="372.17" y2="251.9" stroke="#0c0c0c" stroke-width="1.0"/>
<line x1="373.65" y1="244.9" x2="373.65" y2="248.0" stroke="#d8201c" stroke-width="1.0"/>
<line x1="375.12" y1="244.7" x2="375.12" y2="252.0" stroke="#d8201c" stroke-width="1.0"/>
<line x1="376.59" y1="247.1" x2="376.59" y2="251.8" stroke="#0c0c0c" stroke-width="1.0"/>
<line x1="378.06" y1="242.5" x2="378.06" y2="250.6" stroke="#0c0c0c" stroke-width="1.0"/>
<line x1="379.54" y1="239.6" x2="379.54" y2="244.9" stroke="#0c0c0c" stroke-width="1.0"/>
<line x1="381.01" y1="235.3" x2="381.01" y2="242.4" stroke="#0c0c0c" stroke-width="1.0"/>
<line x1="382.48" y1="226.8" x2="382.48" y2="238.3" stroke="#0c0c0c" stroke-width="1.0"/>
<line x1="383.95" y1="212.5" x2="383.95" y2="233.2" stroke="#0c0c0c" stroke-width="1.0"/>
<line x1="385.43" y1="212.8" x2="385.43" y2="229.4" stroke="#0c0c0c" stroke-width="1.0"/>
<line x1="386.90" y1="226.4" x2="386.90" y2="231.7" stroke="#d8201c" stroke-width="1.0"/>
<line x1="388.37" y1="230.2" x2="388.37" y2="234.7" stroke="#0c0c0c" stroke-width="1.0"/>
<line x1="389.84" y1="231.2" x2="389.84" y2="242.7" stroke="#d8201c" stroke-width="1.0"/>
<line x1="391.32" y1="237.8" x2="391.32" y2="245.9" stroke="#d8201c" stroke-width="1.0"/>
<line x1="392.79" y1="242.6" x2="392.79" y2="247.8" stroke="#0c0c0c" stroke-width="1.0"/>
<line x1="394.26" y1="245.0" x2="394.26" y2="252.8" stroke="#0c0c0c" stroke-width="1.0"/>
<line x1="395.73" y1="247.4" x2="395.73" y2="258.3" stroke="#d8201c" stroke-width="1.0"/>
<line x1="397.21" y1="254.8" x2="397.21" y2="264.3" stroke="#0c0c0c" stroke-width="1.0"/>
<line x1="398.68" y1="259.8" x2="398.68" y2="264.9" stroke="#0c0c0c" stroke-width="1.0"/>
<line x1="400.15" y1="258.2" x2="400.15" y2="265.2" stroke="#d8201c" stroke-width="1.0"/>
<line x1="401.62" y1="261.6" x2="401.62" y2="265.9" stroke="#d8201c" stroke-width="1.0"/>
<line x1="403.10" y1="262.1" x2="403.10" y2="269.2" stroke="#d8201c" stroke-width="1.0"/>
<line x1="404.57" y1="266.8" x2="404.57" y2="271.3" stroke="#d8201c" stroke-width="1.0"/>
<line x1="406.04" y1="266.7" x2="406.04" y2="273.8" stroke="#d8201c" stroke-width="1.0"/>
<line x1="407.51" y1="269.4" x2="407.51" y2="276.2" stroke="#0c0c0c" stroke-width="1.0"/>
<line x1="408.99" y1="260.8" x2="408.99" y2="274.9" stroke="#0c0c0c" stroke-width="1.0"/>
<line x1="410.46" y1="252.8" x2="410.46" y2="265.5" stroke="#0c0c0c" stroke-width="1.0"/>
<line x1="411.93" y1="253.6" x2="411.93" y2="260.6" stroke="#d8201c" stroke-width="1.0"/>
<line x1="413.40" y1="255.7" x2="413.40" y2="258.8" stroke="#d8201c" stroke-width="1.0"/>
<line x1="414.88" y1="252.1" x2="414.88" y2="261.5" stroke="#0c0c0c" stroke-width="1.0"/>
<line x1="416.35" y1="248.3" x2="416.35" y2="254.7" stroke="#0c0c0c" stroke-width="1.0"/>
<line x1="417.82" y1="249.0" x2="417.82" y2="252.0" stroke="#0c0c0c" stroke-width="1.0"/>
<line x1="419.29" y1="247.2" x2="419.29" y2="252.5" stroke="#0c0c0c" stroke-width="1.0"/>
<line x1="420.77" y1="246.7" x2="420.77" y2="250.4" stroke="#0c0c0c" stroke-width="1.0"/>
<line x1="422.24" y1="241.2" x2="422.24" y2="249.7" stroke="#0c0c0c" stroke-width="1.0"/>
<line x1="423.71" y1="237.4" x2="423.71" y2="244.4" stroke="#0c0c0c" stroke-width="1.0"/>
<line x1="425.18" y1="232.5" x2="425.18" y2="239.5" stroke="#0c0c0c" stroke-width="1.0"/>
<line x1="426.66" y1="233.4" x2="426.66" y2="239.6" stroke="#d8201c" stroke-width="1.0"/>
<line x1="428.13" y1="235.3" x2="428.13" y2="245.5" stroke="#d8201c" stroke-width="1.0"/>
<line x1="429.60" y1="241.2" x2="429.60" y2="248.3" stroke="#d8201c" stroke-width="1.0"/>
<line x1="431.07" y1="244.4" x2="431.07" y2="248.4" stroke="#0c0c0c" stroke-width="1.0"/>
<line x1="432.55" y1="244.6" x2="432.55" y2="249.0" stroke="#0c0c0c" stroke-width="1.0"/>
<line x1="434.02" y1="233.7" x2="434.02" y2="246.9" stroke="#0c0c0c" stroke-width="1.0"/>
<line x1="435.49" y1="229.2" x2="435.49" y2="238.7" stroke="#0c0c0c" stroke-width="1.0"/>
<line x1="436.96" y1="224.0" x2="436.96" y2="231.6" stroke="#0c0c0c" stroke-width="1.0"/>
<line x1="438.44" y1="222.4" x2="438.44" y2="228.8" stroke="#0c0c0c" stroke-width="1.0"/>
<line x1="439.91" y1="221.3" x2="439.91" y2="239.7" stroke="#0c0c0c" stroke-width="1.0"/>
<line x1="441.38" y1="234.3" x2="441.38" y2="247.5" stroke="#d8201c" stroke-width="1.0"/>
<line x1="442.85" y1="242.3" x2="442.85" y2="248.1" stroke="#0c0c0c" stroke-width="1.0"/>
<line x1="444.33" y1="242.0" x2="444.33" y2="247.4" stroke="#0c0c0c" stroke-width="1.0"/>
<line x1="445.80" y1="243.3" x2="445.80" y2="250.0" stroke="#d8201c" stroke-width="1.0"/>
<line x1="447.27" y1="243.8" x2="447.27" y2="253.7" stroke="#0c0c0c" stroke-width="1.0"/>
<line x1="448.74" y1="241.3" x2="448.74" y2="253.5" stroke="#0c0c0c" stroke-width="1.0"/>
<line x1="450.22" y1="233.7" x2="450.22" y2="245.8" stroke="#0c0c0c" stroke-width="1.0"/>
<line x1="451.69" y1="228.4" x2="451.69" y2="237.8" stroke="#0c0c0c" stroke-width="1.0"/>
<line x1="453.16" y1="222.0" x2="453.16" y2="232.7" stroke="#0c0c0c" stroke-width="1.0"/>
<line x1="454.63" y1="214.7" x2="454.63" y2="223.8" stroke="#0c0c0c" stroke-width="1.0"/>
<line x1="456.11" y1="214.9" x2="456.11" y2="226.9" stroke="#d8201c" stroke-width="1.0"/>
<line x1="457.58" y1="215.6" x2="457.58" y2="227.9" stroke="#0c0c0c" stroke-width="1.0"/>
<line x1="459.05" y1="212.0" x2="459.05" y2="222.0" stroke="#0c0c0c" stroke-width="1.0"/>
<line x1="460.52" y1="213.1" x2="460.52" y2="216.5" stroke="#0c0c0c" stroke-width="1.0"/>
<line x1="462.00" y1="207.0" x2="462.00" y2="217.3" stroke="#0c0c0c" stroke-width="1.0"/>
<line x1="463.47" y1="209.7" x2="463.47" y2="223.7" stroke="#d8201c" stroke-width="1.0"/>
<line x1="464.94" y1="203.9" x2="464.94" y2="222.7" stroke="#0c0c0c" stroke-width="1.0"/>
<line x1="466.41" y1="193.3" x2="466.41" y2="206.0" stroke="#0c0c0c" stroke-width="1.0"/>
<line x1="467.89" y1="194.6" x2="467.89" y2="213.4" stroke="#d8201c" stroke-width="1.0"/>
<line x1="469.36" y1="210.9" x2="469.36" y2="235.4" stroke="#0c0c0c" stroke-width="1.0"/>
<line x1="470.83" y1="228.3" x2="470.83" y2="235.0" stroke="#0c0c0c" stroke-width="1.0"/>
<line x1="472.30" y1="220.8" x2="472.30" y2="231.7" stroke="#0c0c0c" stroke-width="1.0"/>
<line x1="473.78" y1="223.1" x2="473.78" y2="225.7" stroke="#0c0c0c" stroke-width="1.0"/>
<line x1="475.25" y1="222.1" x2="475.25" y2="233.3" stroke="#0c0c0c" stroke-width="1.0"/>
<line x1="476.72" y1="224.7" x2="476.72" y2="233.3" stroke="#0c0c0c" stroke-width="1.0"/>
<line x1="478.19" y1="221.8" x2="478.19" y2="228.0" stroke="#0c0c0c" stroke-width="1.0"/>
<line x1="479.67" y1="213.1" x2="479.67" y2="225.2" stroke="#0c0c0c" stroke-width="1.0"/>
<line x1="481.14" y1="214.6" x2="481.14" y2="216.6" stroke="#0c0c0c" stroke-width="1.0"/>
<line x1="482.61" y1="214.5" x2="482.61" y2="232.8" stroke="#0c0c0c" stroke-width="1.0"/>
<line x1="484.08" y1="226.8" x2="484.08" y2="241.5" stroke="#d8201c" stroke-width="1.0"/>
<line x1="485.56" y1="229.0" x2="485.56" y2="236.4" stroke="#0c0c0c" stroke-width="1.0"/>
<line x1="487.03" y1="222.4" x2="487.03" y2="231.6" stroke="#0c0c0c" stroke-width="1.0"/>
<line x1="488.50" y1="215.7" x2="488.50" y2="226.2" stroke="#0c0c0c" stroke-width="1.0"/>
<line x1="489.97" y1="214.3" x2="489.97" y2="218.8" stroke="#0c0c0c" stroke-width="1.0"/>
<line x1="491.45" y1="212.8" x2="491.45" y2="220.4" stroke="#d8201c" stroke-width="1.0"/>
<line x1="492.92" y1="210.5" x2="492.92" y2="217.7" stroke="#0c0c0c" stroke-width="1.0"/>
<line x1="494.39" y1="211.6" x2="494.39" y2="215.8" stroke="#0c0c0c" stroke-width="1.0"/>
<line x1="495.86" y1="209.5" x2="495.86" y2="218.4" stroke="#d8201c" stroke-width="1.0"/>
<line x1="497.34" y1="213.7" x2="497.34" y2="218.8" stroke="#d8201c" stroke-width="1.0"/>
<line x1="498.81" y1="212.2" x2="498.81" y2="218.0" stroke="#0c0c0c" stroke-width="1.0"/>
<line x1="500.28" y1="205.1" x2="500.28" y2="218.2" stroke="#0c0c0c" stroke-width="1.0"/>
<line x1="501.75" y1="198.1" x2="501.75" y2="210.9" stroke="#0c0c0c" stroke-width="1.0"/>
<line x1="503.23" y1="198.8" x2="503.23" y2="206.8" stroke="#d8201c" stroke-width="1.0"/>
<line x1="504.70" y1="200.8" x2="504.70" y2="208.2" stroke="#0c0c0c" stroke-width="1.0"/>
<line x1="506.17" y1="201.6" x2="506.17" y2="203.8" stroke="#d8201c" stroke-width="1.0"/>
<line x1="507.64" y1="201.5" x2="507.64" y2="210.0" stroke="#0c0c0c" stroke-width="1.0"/>
<line x1="509.12" y1="207.2" x2="509.12" y2="215.4" stroke="#d8201c" stroke-width="1.0"/>
<line x1="510.59" y1="210.8" x2="510.59" y2="219.0" stroke="#0c0c0c" stroke-width="1.0"/>
<line x1="512.06" y1="210.3" x2="512.06" y2="216.3" stroke="#0c0c0c" stroke-width="1.0"/>
<line x1="513.53" y1="209.0" x2="513.53" y2="219.1" stroke="#d8201c" stroke-width="1.0"/>
<line x1="515.00" y1="215.2" x2="515.00" y2="225.0" stroke="#d8201c" stroke-width="1.0"/>
<line x1="516.48" y1="220.7" x2="516.48" y2="228.2" stroke="#d8201c" stroke-width="1.0"/>
<line x1="517.95" y1="223.0" x2="517.95" y2="229.3" stroke="#d8201c" stroke-width="1.0"/>
<line x1="519.42" y1="227.0" x2="519.42" y2="233.7" stroke="#d8201c" stroke-width="1.0"/>
<line x1="520.89" y1="224.9" x2="520.89" y2="232.6" stroke="#0c0c0c" stroke-width="1.0"/>
<line x1="522.37" y1="219.9" x2="522.37" y2="228.9" stroke="#0c0c0c" stroke-width="1.0"/>
<line x1="523.84" y1="216.1" x2="523.84" y2="224.3" stroke="#0c0c0c" stroke-width="1.0"/>
<line x1="525.31" y1="213.4" x2="525.31" y2="218.6" stroke="#0c0c0c" stroke-width="1.0"/>
<line x1="526.79" y1="214.0" x2="526.79" y2="220.3" stroke="#d8201c" stroke-width="1.0"/>
<line x1="528.26" y1="210.8" x2="528.26" y2="219.8" stroke="#0c0c0c" stroke-width="1.0"/>
<line x1="529.73" y1="209.6" x2="529.73" y2="218.4" stroke="#0c0c0c" stroke-width="1.0"/>
<line x1="531.20" y1="213.0" x2="531.20" y2="218.1" stroke="#0c0c0c" stroke-width="1.0"/>
<line x1="532.67" y1="212.1" x2="532.67" y2="218.6" stroke="#0c0c0c" stroke-width="1.0"/>
<line x1="534.15" y1="214.7" x2="534.15" y2="221.0" stroke="#0c0c0c" stroke-width="1.0"/>
<line x1="535.62" y1="218.5" x2="535.62" y2="225.3" stroke="#d8201c" stroke-width="1.0"/>
<line x1="537.09" y1="218.6" x2="537.09" y2="227.3" stroke="#d8201c" stroke-width="1.0"/>
<line x1="538.57" y1="223.9" x2="538.57" y2="230.5" stroke="#d8201c" stroke-width="1.0"/>
<line x1="540.04" y1="220.7" x2="540.04" y2="229.7" stroke="#0c0c0c" stroke-width="1.0"/>
<line x1="541.51" y1="214.6" x2="541.51" y2="226.4" stroke="#0c0c0c" stroke-width="1.0"/>
<line x1="542.98" y1="210.1" x2="542.98" y2="218.5" stroke="#0c0c0c" stroke-width="1.0"/>
<line x1="544.46" y1="203.8" x2="544.46" y2="212.3" stroke="#0c0c0c" stroke-width="1.0"/>
<line x1="545.93" y1="200.3" x2="545.93" y2="207.1" stroke="#0c0c0c" stroke-width="1.0"/>
<line x1="547.40" y1="196.7" x2="547.40" y2="202.7" stroke="#0c0c0c" stroke-width="1.0"/>
<line x1="548.87" y1="195.0" x2="548.87" y2="200.6" stroke="#0c0c0c" stroke-width="1.0"/>
<line x1="550.35" y1="193.0" x2="550.35" y2="203.6" stroke="#d8201c" stroke-width="1.0"/>
<line x1="551.82" y1="200.3" x2="551.82" y2="205.4" stroke="#0c0c0c" stroke-width="1.0"/>
<line x1="553.29" y1="199.3" x2="553.29" y2="208.0" stroke="#0c0c0c" stroke-width="1.0"/>
<line x1="554.76" y1="205.7" x2="554.76" y2="212.6" stroke="#d8201c" stroke-width="1.0"/>
<line x1="556.24" y1="207.0" x2="556.24" y2="211.4" stroke="#0c0c0c" stroke-width="1.0"/>
<line x1="557.71" y1="202.2" x2="557.71" y2="209.5" stroke="#0c0c0c" stroke-width="1.0"/>
<line x1="559.18" y1="201.0" x2="559.18" y2="206.2" stroke="#0c0c0c" stroke-width="1.0"/>
<line x1="560.65" y1="199.0" x2="560.65" y2="207.8" stroke="#d8201c" stroke-width="1.0"/>
<line x1="562.12" y1="194.7" x2="562.12" y2="208.1" stroke="#0c0c0c" stroke-width="1.0"/>
<line x1="563.60" y1="162.8" x2="563.60" y2="199.8" stroke="#0c0c0c" stroke-width="1.0"/>
<line x1="565.07" y1="141.3" x2="565.07" y2="167.0" stroke="#0c0c0c" stroke-width="1.0"/>
<line x1="566.54" y1="156.2" x2="566.54" y2="172.9" stroke="#0c0c0c" stroke-width="1.0"/>
<line x1="568.01" y1="168.6" x2="568.01" y2="184.4" stroke="#d8201c" stroke-width="1.0"/>
<line x1="569.49" y1="172.6" x2="569.49" y2="185.7" stroke="#0c0c0c" stroke-width="1.0"/>
<line x1="570.96" y1="172.4" x2="570.96" y2="194.5" stroke="#0c0c0c" stroke-width="1.0"/>
<line x1="572.43" y1="191.3" x2="572.43" y2="201.9" stroke="#d8201c" stroke-width="1.0"/>
<line x1="573.90" y1="198.7" x2="573.90" y2="205.2" stroke="#d8201c" stroke-width="1.0"/>
<line x1="575.38" y1="195.7" x2="575.38" y2="203.7" stroke="#0c0c0c" stroke-width="1.0"/>
<line x1="576.85" y1="192.1" x2="576.85" y2="199.8" stroke="#0c0c0c" stroke-width="1.0"/>
<line x1="578.32" y1="190.2" x2="578.32" y2="196.6" stroke="#d8201c" stroke-width="1.0"/>
<line x1="579.79" y1="190.0" x2="579.79" y2="199.1" stroke="#0c0c0c" stroke-width="1.0"/>
<line x1="581.27" y1="191.8" x2="581.27" y2="196.7" stroke="#d8201c" stroke-width="1.0"/>
<line x1="582.74" y1="192.4" x2="582.74" y2="204.3" stroke="#0c0c0c" stroke-width="1.0"/>
<line x1="584.21" y1="197.2" x2="584.21" y2="204.0" stroke="#0c0c0c" stroke-width="1.0"/>
<line x1="585.69" y1="197.3" x2="585.69" y2="204.3" stroke="#d8201c" stroke-width="1.0"/>
<line x1="587.16" y1="201.0" x2="587.16" y2="204.9" stroke="#0c0c0c" stroke-width="1.0"/>
<line x1="588.63" y1="191.9" x2="588.63" y2="203.8" stroke="#0c0c0c" stroke-width="1.0"/>
<line x1="590.10" y1="184.3" x2="590.10" y2="196.1" stroke="#0c0c0c" stroke-width="1.0"/>
<line x1="591.58" y1="177.2" x2="591.58" y2="188.5" stroke="#0c0c0c" stroke-width="1.0"/>
<line x1="593.05" y1="163.5" x2="593.05" y2="180.3" stroke="#0c0c0c" stroke-width="1.0"/>
<line x1="594.52" y1="154.0" x2="594.52" y2="166.1" stroke="#0c0c0c" stroke-width="1.0"/>
<line x1="595.99" y1="155.5" x2="595.99" y2="165.9" stroke="#d8201c" stroke-width="1.0"/>
<line x1="597.47" y1="162.6" x2="597.47" y2="171.9" stroke="#d8201c" stroke-width="1.0"/>
<line x1="598.94" y1="169.1" x2="598.94" y2="179.3" stroke="#0c0c0c" stroke-width="1.0"/>
<line x1="600.41" y1="174.0" x2="600.41" y2="193.8" stroke="#d8201c" stroke-width="1.0"/>
<line x1="601.88" y1="190.2" x2="601.88" y2="198.5" stroke="#d8201c" stroke-width="1.0"/>
<line x1="603.36" y1="195.0" x2="603.36" y2="203.8" stroke="#d8201c" stroke-width="1.0"/>
<line x1="604.83" y1="194.3" x2="604.83" y2="200.7" stroke="#0c0c0c" stroke-width="1.0"/>
<line x1="606.30" y1="189.4" x2="606.30" y2="198.1" stroke="#0c0c0c" stroke-width="1.0"/>
<line x1="607.77" y1="186.1" x2="607.77" y2="194.5" stroke="#0c0c0c" stroke-width="1.0"/>
<line x1="609.25" y1="184.0" x2="609.25" y2="189.2" stroke="#0c0c0c" stroke-width="1.0"/>
<line x1="610.72" y1="168.9" x2="610.72" y2="188.7" stroke="#0c0c0c" stroke-width="1.0"/>
<line x1="612.19" y1="151.9" x2="612.19" y2="170.8" stroke="#0c0c0c" stroke-width="1.0"/>
<line x1="613.66" y1="141.5" x2="613.66" y2="153.5" stroke="#0c0c0c" stroke-width="1.0"/>
<line x1="615.13" y1="137.7" x2="615.13" y2="145.4" stroke="#0c0c0c" stroke-width="1.0"/>
<line x1="616.61" y1="138.9" x2="616.61" y2="146.3" stroke="#0c0c0c" stroke-width="1.0"/>
<line x1="618.08" y1="135.9" x2="618.08" y2="146.7" stroke="#0c0c0c" stroke-width="1.0"/>
<line x1="619.55" y1="136.6" x2="619.55" y2="142.0" stroke="#d8201c" stroke-width="1.0"/>
<line x1="621.02" y1="139.7" x2="621.02" y2="149.0" stroke="#0c0c0c" stroke-width="1.0"/>
<line x1="622.50" y1="142.5" x2="622.50" y2="154.1" stroke="#d8201c" stroke-width="1.0"/>
<line x1="623.97" y1="136.1" x2="623.97" y2="151.7" stroke="#0c0c0c" stroke-width="1.0"/>
<line x1="625.44" y1="123.3" x2="625.44" y2="141.0" stroke="#0c0c0c" stroke-width="1.0"/>
<line x1="626.91" y1="114.0" x2="626.91" y2="129.9" stroke="#0c0c0c" stroke-width="1.0"/>
<line x1="628.39" y1="116.9" x2="628.39" y2="122.1" stroke="#d8201c" stroke-width="1.0"/>
<line x1="629.86" y1="118.5" x2="629.86" y2="126.2" stroke="#d8201c" stroke-width="1.0"/>
<line x1="631.33" y1="123.6" x2="631.33" y2="131.1" stroke="#0c0c0c" stroke-width="1.0"/>
<line x1="632.81" y1="121.2" x2="632.81" y2="128.9" stroke="#0c0c0c" stroke-width="1.0"/>
<line x1="634.28" y1="120.5" x2="634.28" y2="127.4" stroke="#0c0c0c" stroke-width="1.0"/>
<line x1="635.75" y1="121.4" x2="635.75" y2="132.1" stroke="#d8201c" stroke-width="1.0"/>
<line x1="637.22" y1="129.4" x2="637.22" y2="138.7" stroke="#0c0c0c" stroke-width="1.0"/>
<line x1="638.70" y1="137.1" x2="638.70" y2="144.0" stroke="#d8201c" stroke-width="1.0"/>
<line x1="640.17" y1="131.3" x2="640.17" y2="141.7" stroke="#0c0c0c" stroke-width="1.0"/>
<line x1="641.64" y1="125.4" x2="641.64" y2="135.4" stroke="#0c0c0c" stroke-width="1.0"/>
<line x1="643.11" y1="126.2" x2="643.11" y2="147.4" stroke="#d8201c" stroke-width="1.0"/>
<line x1="644.59" y1="141.9" x2="644.59" y2="159.0" stroke="#d8201c" stroke-width="1.0"/>
<line x1="646.06" y1="153.6" x2="646.06" y2="166.6" stroke="#d8201c" stroke-width="1.0"/>
<line x1="647.53" y1="163.4" x2="647.53" y2="172.9" stroke="#d8201c" stroke-width="1.0"/>
<line x1="649.00" y1="169.7" x2="649.00" y2="174.7" stroke="#0c0c0c" stroke-width="1.0"/>
<line x1="650.48" y1="163.7" x2="650.48" y2="172.6" stroke="#0c0c0c" stroke-width="1.0"/>
<line x1="651.95" y1="163.2" x2="651.95" y2="175.6" stroke="#0c0c0c" stroke-width="1.0"/>
<line x1="653.42" y1="171.1" x2="653.42" y2="179.5" stroke="#d8201c" stroke-width="1.0"/>
<line x1="654.89" y1="169.0" x2="654.89" y2="179.9" stroke="#0c0c0c" stroke-width="1.0"/>
<line x1="656.37" y1="160.1" x2="656.37" y2="172.5" stroke="#0c0c0c" stroke-width="1.0"/>
<line x1="657.84" y1="157.5" x2="657.84" y2="164.9" stroke="#0c0c0c" stroke-width="1.0"/>
<line x1="659.31" y1="154.9" x2="659.31" y2="160.6" stroke="#0c0c0c" stroke-width="1.0"/>
<line x1="660.78" y1="153.3" x2="660.78" y2="157.8" stroke="#0c0c0c" stroke-width="1.0"/>
<line x1="662.25" y1="150.4" x2="662.25" y2="156.3" stroke="#0c0c0c" stroke-width="1.0"/>
<line x1="663.73" y1="146.2" x2="663.73" y2="153.1" stroke="#0c0c0c" stroke-width="1.0"/>
<line x1="665.20" y1="144.9" x2="665.20" y2="151.8" stroke="#0c0c0c" stroke-width="1.0"/>
<line x1="666.67" y1="138.9" x2="666.67" y2="146.6" stroke="#0c0c0c" stroke-width="1.0"/>
<line x1="668.14" y1="137.9" x2="668.14" y2="142.5" stroke="#d8201c" stroke-width="1.0"/>
<line x1="669.62" y1="124.9" x2="669.62" y2="143.9" stroke="#0c0c0c" stroke-width="1.0"/>
<line x1="671.09" y1="108.5" x2="671.09" y2="127.2" stroke="#0c0c0c" stroke-width="1.0"/>
<line x1="672.56" y1="92.0" x2="672.56" y2="112.7" stroke="#0c0c0c" stroke-width="1.0"/>
<line x1="674.03" y1="88.5" x2="674.03" y2="110.3" stroke="#0c0c0c" stroke-width="1.0"/>
<line x1="675.51" y1="99.7" x2="675.51" y2="107.8" stroke="#0c0c0c" stroke-width="1.0"/>
<line x1="676.98" y1="98.3" x2="676.98" y2="116.8" stroke="#d8201c" stroke-width="1.0"/>
<line x1="678.45" y1="112.0" x2="678.45" y2="125.1" stroke="#0c0c0c" stroke-width="1.0"/>
<line x1="679.93" y1="112.6" x2="679.93" y2="126.0" stroke="#0c0c0c" stroke-width="1.0"/>
<line x1="681.40" y1="105.6" x2="681.40" y2="117.5" stroke="#0c0c0c" stroke-width="1.0"/>
<line x1="682.87" y1="100.5" x2="682.87" y2="110.5" stroke="#0c0c0c" stroke-width="1.0"/>
<line x1="684.34" y1="99.7" x2="684.34" y2="107.3" stroke="#d8201c" stroke-width="1.0"/>
<line x1="685.82" y1="105.4" x2="685.82" y2="111.7" stroke="#d8201c" stroke-width="1.0"/>
<line x1="687.29" y1="108.4" x2="687.29" y2="112.2" stroke="#d8201c" stroke-width="1.0"/>
<line x1="688.76" y1="102.7" x2="688.76" y2="113.6" stroke="#0c0c0c" stroke-width="1.0"/>
<line x1="690.23" y1="86.9" x2="690.23" y2="104.2" stroke="#0c0c0c" stroke-width="1.0"/>
<line x1="691.71" y1="81.7" x2="691.71" y2="92.5" stroke="#0c0c0c" stroke-width="1.0"/>
<line x1="693.18" y1="80.8" x2="693.18" y2="91.2" stroke="#d8201c" stroke-width="1.0"/>
<line x1="694.65" y1="87.8" x2="694.65" y2="95.2" stroke="#d8201c" stroke-width="1.0"/>
<line x1="696.12" y1="84.6" x2="696.12" y2="97.0" stroke="#0c0c0c" stroke-width="1.0"/>
<line x1="697.60" y1="68.6" x2="697.60" y2="87.9" stroke="#0c0c0c" stroke-width="1.0"/>
<line x1="699.07" y1="58.5" x2="699.07" y2="74.5" stroke="#0c0c0c" stroke-width="1.0"/>
<line x1="700.54" y1="60.3" x2="700.54" y2="73.9" stroke="#d8201c" stroke-width="1.0"/>
<line x1="702.01" y1="70.2" x2="702.01" y2="86.2" stroke="#0c0c0c" stroke-width="1.0"/>
<line x1="703.49" y1="83.8" x2="703.49" y2="105.9" stroke="#d8201c" stroke-width="1.0"/>
<line x1="704.96" y1="102.6" x2="704.96" y2="126.5" stroke="#d8201c" stroke-width="1.0"/>
<line x1="706.43" y1="119.4" x2="706.43" y2="125.2" stroke="#0c0c0c" stroke-width="1.0"/>
<line x1="707.90" y1="117.2" x2="707.90" y2="123.8" stroke="#0c0c0c" stroke-width="1.0"/>
<line x1="709.38" y1="116.5" x2="709.38" y2="126.7" stroke="#0c0c0c" stroke-width="1.0"/>
<line x1="710.85" y1="115.5" x2="710.85" y2="128.0" stroke="#0c0c0c" stroke-width="1.0"/>
<line x1="712.32" y1="116.8" x2="712.32" y2="123.1" stroke="#0c0c0c" stroke-width="1.0"/>
<line x1="713.79" y1="116.9" x2="713.79" y2="121.2" stroke="#0c0c0c" stroke-width="1.0"/>
<line x1="715.26" y1="111.9" x2="715.26" y2="121.5" stroke="#0c0c0c" stroke-width="1.0"/>
<line x1="716.74" y1="109.2" x2="716.74" y2="116.1" stroke="#0c0c0c" stroke-width="1.0"/>
<line x1="718.21" y1="107.5" x2="718.21" y2="113.4" stroke="#0c0c0c" stroke-width="1.0"/>
<line x1="719.68" y1="107.7" x2="719.68" y2="113.9" stroke="#0c0c0c" stroke-width="1.0"/>
<line x1="721.15" y1="106.5" x2="721.15" y2="120.7" stroke="#d8201c" stroke-width="1.0"/>
<line x1="722.63" y1="112.4" x2="722.63" y2="120.0" stroke="#0c0c0c" stroke-width="1.0"/>
<line x1="724.10" y1="112.8" x2="724.10" y2="126.6" stroke="#d8201c" stroke-width="1.0"/>
<line x1="725.57" y1="122.1" x2="725.57" y2="136.0" stroke="#d8201c" stroke-width="1.0"/>
<line x1="727.05" y1="131.9" x2="727.05" y2="138.7" stroke="#d8201c" stroke-width="1.0"/>
<line x1="728.52" y1="134.6" x2="728.52" y2="140.8" stroke="#0c0c0c" stroke-width="1.0"/>
<line x1="729.99" y1="134.4" x2="729.99" y2="142.5" stroke="#0c0c0c" stroke-width="1.0"/>
<line x1="731.46" y1="133.9" x2="731.46" y2="143.4" stroke="#0c0c0c" stroke-width="1.0"/>
<line x1="732.94" y1="136.3" x2="732.94" y2="140.5" stroke="#0c0c0c" stroke-width="1.0"/>
<line x1="734.41" y1="136.7" x2="734.41" y2="142.3" stroke="#0c0c0c" stroke-width="1.0"/>
<line x1="735.88" y1="136.7" x2="735.88" y2="144.5" stroke="#0c0c0c" stroke-width="1.0"/>
<line x1="737.35" y1="139.6" x2="737.35" y2="150.6" stroke="#d8201c" stroke-width="1.0"/>
<line x1="738.83" y1="146.0" x2="738.83" y2="156.0" stroke="#0c0c0c" stroke-width="1.0"/>
<line x1="740.30" y1="142.8" x2="740.30" y2="156.0" stroke="#0c0c0c" stroke-width="1.0"/>
<line x1="741.77" y1="132.0" x2="741.77" y2="146.7" stroke="#0c0c0c" stroke-width="1.0"/>
<line x1="743.24" y1="131.4" x2="743.24" y2="136.2" stroke="#0c0c0c" stroke-width="1.0"/>
<line x1="744.72" y1="125.6" x2="744.72" y2="135.5" stroke="#0c0c0c" stroke-width="1.0"/>
<line x1="746.19" y1="123.3" x2="746.19" y2="130.9" stroke="#d8201c" stroke-width="1.0"/>
<line x1="747.66" y1="115.6" x2="747.66" y2="129.8" stroke="#0c0c0c" stroke-width="1.0"/>
<line x1="749.13" y1="112.4" x2="749.13" y2="118.8" stroke="#0c0c0c" stroke-width="1.0"/>
<line x1="750.61" y1="108.9" x2="750.61" y2="114.3" stroke="#0c0c0c" stroke-width="1.0"/>
<line x1="752.08" y1="98.7" x2="752.08" y2="113.4" stroke="#0c0c0c" stroke-width="1.0"/>
<line x1="753.55" y1="83.9" x2="753.55" y2="101.4" stroke="#0c0c0c" stroke-width="1.0"/>
<line x1="755.02" y1="83.1" x2="755.02" y2="90.0" stroke="#d8201c" stroke-width="1.0"/>
<line x1="756.50" y1="85.9" x2="756.50" y2="103.4" stroke="#d8201c" stroke-width="1.0"/>
<line x1="757.97" y1="97.0" x2="757.97" y2="106.2" stroke="#0c0c0c" stroke-width="1.0"/>
<line x1="759.44" y1="102.1" x2="759.44" y2="110.7" stroke="#d8201c" stroke-width="1.0"/>
<line x1="760.91" y1="76.7" x2="760.91" y2="111.5" stroke="#0c0c0c" stroke-width="1.0"/>
<line x1="762.38" y1="58.6" x2="762.38" y2="79.4" stroke="#0c0c0c" stroke-width="1.0"/>
<line x1="763.86" y1="36.5" x2="763.86" y2="61.5" stroke="#0c0c0c" stroke-width="1.0"/>
<line x1="765.33" y1="42.4" x2="765.33" y2="51.2" stroke="#0c0c0c" stroke-width="1.0"/>
<line x1="766.80" y1="49.1" x2="766.80" y2="54.9" stroke="#d8201c" stroke-width="1.0"/>
<line x1="768.27" y1="51.6" x2="768.27" y2="62.7" stroke="#d8201c" stroke-width="1.0"/>
<line x1="769.75" y1="45.0" x2="769.75" y2="61.8" stroke="#0c0c0c" stroke-width="1.0"/>
<line x1="771.22" y1="45.9" x2="771.22" y2="56.2" stroke="#d8201c" stroke-width="1.0"/>
<line x1="772.69" y1="53.4" x2="772.69" y2="59.3" stroke="#d8201c" stroke-width="1.0"/>
<line x1="774.17" y1="54.8" x2="774.17" y2="65.6" stroke="#d8201c" stroke-width="1.0"/>
<line x1="775.64" y1="62.2" x2="775.64" y2="67.7" stroke="#0c0c0c" stroke-width="1.0"/>
<line x1="777.11" y1="62.5" x2="777.11" y2="76.1" stroke="#d8201c" stroke-width="1.0"/>
<line x1="778.58" y1="71.2" x2="778.58" y2="86.2" stroke="#d8201c" stroke-width="1.0"/>
<line x1="780.06" y1="82.9" x2="780.06" y2="106.3" stroke="#0c0c0c" stroke-width="1.0"/>
<line x1="781.53" y1="100.0" x2="781.53" y2="115.0" stroke="#0c0c0c" stroke-width="1.0"/>
<line x1="783.00" y1="105.1" x2="783.00" y2="116.0" stroke="#0c0c0c" stroke-width="1.0"/>
<line x1="784.47" y1="102.0" x2="784.47" y2="108.0" stroke="#0c0c0c" stroke-width="1.0"/>
<line x1="785.95" y1="94.4" x2="785.95" y2="105.2" stroke="#0c0c0c" stroke-width="1.0"/>
<line x1="787.42" y1="87.6" x2="787.42" y2="99.6" stroke="#0c0c0c" stroke-width="1.0"/>
<line x1="788.89" y1="83.1" x2="788.89" y2="92.3" stroke="#0c0c0c" stroke-width="1.0"/>
<line x1="790.36" y1="83.4" x2="790.36" y2="92.9" stroke="#d8201c" stroke-width="1.0"/>
<line x1="791.84" y1="90.3" x2="791.84" y2="104.7" stroke="#d8201c" stroke-width="1.0"/>
<line x1="793.31" y1="90.1" x2="793.31" y2="102.7" stroke="#0c0c0c" stroke-width="1.0"/>
<line x1="794.78" y1="91.0" x2="794.78" y2="96.8" stroke="#d8201c" stroke-width="1.0"/>
<line x1="796.25" y1="93.1" x2="796.25" y2="104.2" stroke="#d8201c" stroke-width="1.0"/>
<line x1="797.73" y1="101.1" x2="797.73" y2="110.1" stroke="#d8201c" stroke-width="1.0"/>
<line x1="799.20" y1="106.4" x2="799.20" y2="133.2" stroke="#0c0c0c" stroke-width="1.0"/>
<line x1="800.67" y1="129.2" x2="800.67" y2="140.2" stroke="#d8201c" stroke-width="1.0"/>
<line x1="802.14" y1="136.9" x2="802.14" y2="151.9" stroke="#d8201c" stroke-width="1.0"/>
<line x1="803.62" y1="149.9" x2="803.62" y2="165.6" stroke="#d8201c" stroke-width="1.0"/>
<line x1="805.09" y1="161.3" x2="805.09" y2="168.7" stroke="#0c0c0c" stroke-width="1.0"/>
<line x1="806.56" y1="163.7" x2="806.56" y2="177.5" stroke="#d8201c" stroke-width="1.0"/>
<line x1="808.03" y1="171.4" x2="808.03" y2="190.4" stroke="#0c0c0c" stroke-width="1.0"/>
<line x1="809.50" y1="186.2" x2="809.50" y2="200.8" stroke="#0c0c0c" stroke-width="1.0"/>
<line x1="810.98" y1="172.7" x2="810.98" y2="192.3" stroke="#0c0c0c" stroke-width="1.0"/>
<line x1="812.45" y1="170.4" x2="812.45" y2="177.3" stroke="#0c0c0c" stroke-width="1.0"/>
<line x1="813.92" y1="161.9" x2="813.92" y2="174.1" stroke="#0c0c0c" stroke-width="1.0"/>
<line x1="815.39" y1="162.1" x2="815.39" y2="176.7" stroke="#0c0c0c" stroke-width="1.0"/>
<line x1="816.87" y1="172.5" x2="816.87" y2="182.4" stroke="#d8201c" stroke-width="1.0"/>
<line x1="818.34" y1="164.1" x2="818.34" y2="182.5" stroke="#0c0c0c" stroke-width="1.0"/>
<line x1="819.81" y1="161.6" x2="819.81" y2="170.1" stroke="#0c0c0c" stroke-width="1.0"/>
<line x1="821.29" y1="162.0" x2="821.29" y2="179.1" stroke="#d8201c" stroke-width="1.0"/>
<line x1="822.76" y1="174.8" x2="822.76" y2="191.2" stroke="#d8201c" stroke-width="1.0"/>
<line x1="824.23" y1="185.3" x2="824.23" y2="205.4" stroke="#d8201c" stroke-width="1.0"/>
<line x1="825.70" y1="201.0" x2="825.70" y2="216.1" stroke="#d8201c" stroke-width="1.0"/>
<line x1="827.18" y1="213.9" x2="827.18" y2="222.0" stroke="#d8201c" stroke-width="1.0"/>
<line x1="828.65" y1="193.3" x2="828.65" y2="218.4" stroke="#0c0c0c" stroke-width="1.0"/>
<line x1="830.12" y1="187.1" x2="830.12" y2="197.7" stroke="#0c0c0c" stroke-width="1.0"/>
<line x1="831.59" y1="186.5" x2="831.59" y2="192.8" stroke="#d8201c" stroke-width="1.0"/>
<line x1="833.07" y1="187.9" x2="833.07" y2="201.0" stroke="#0c0c0c" stroke-width="1.0"/>
<line x1="834.54" y1="195.3" x2="834.54" y2="206.8" stroke="#d8201c" stroke-width="1.0"/>
<line x1="836.01" y1="202.0" x2="836.01" y2="212.9" stroke="#0c0c0c" stroke-width="1.0"/>
<line x1="837.48" y1="200.8" x2="837.48" y2="210.4" stroke="#0c0c0c" stroke-width="1.0"/>
<line x1="838.96" y1="197.4" x2="838.96" y2="206.3" stroke="#0c0c0c" stroke-width="1.0"/>
<line x1="840.43" y1="192.2" x2="840.43" y2="201.1" stroke="#0c0c0c" stroke-width="1.0"/>
<line x1="841.90" y1="181.5" x2="841.90" y2="196.4" stroke="#0c0c0c" stroke-width="1.0"/>
<line x1="843.37" y1="181.2" x2="843.37" y2="190.2" stroke="#d8201c" stroke-width="1.0"/>
<line x1="844.85" y1="185.2" x2="844.85" y2="200.6" stroke="#d8201c" stroke-width="1.0"/>
<line x1="846.32" y1="195.1" x2="846.32" y2="204.0" stroke="#d8201c" stroke-width="1.0"/>
<line x1="847.79" y1="201.2" x2="847.79" y2="212.2" stroke="#0c0c0c" stroke-width="1.0"/>
<line x1="849.26" y1="205.9" x2="849.26" y2="218.6" stroke="#d8201c" stroke-width="1.0"/>
<polyline fill="none" stroke="#8a52e0" stroke-width="1.2" stroke-linejoin="round" points="36.4,312.1 37.9,313.2 39.4,314.0 40.9,315.1 42.3,316.0 43.8,316.4 45.3,316.5 46.8,316.7 48.2,317.8 49.7,321.2 51.2,323.4 52.6,325.0 54.1,328.9 55.6,334.8 57.1,338.9 58.5,340.4 60.0,339.8 61.5,339.6 62.9,339.2 64.4,340.4 65.9,342.5 67.4,344.9 68.8,348.0 70.3,350.3 71.8,351.9 73.3,354.4 74.7,356.1 76.2,357.5 77.7,360.3 79.1,361.5 80.6,363.0 82.1,365.7 83.6,368.6 85.0,369.7 86.5,369.1 88.0,369.9 89.5,371.8 90.9,371.7 92.4,371.5 93.9,371.4 95.3,371.8 96.8,372.8 98.3,371.8 99.8,370.1 101.2,367.5 102.7,364.1 104.2,360.8 105.7,358.4 107.1,356.6 108.6,355.1 110.1,353.2 111.5,351.4 113.0,349.9 114.5,350.0 116.0,350.9 117.4,351.7 118.9,352.0 120.4,352.6 121.8,353.3 123.3,353.7 124.8,354.1 126.3,354.7 127.7,355.8 129.2,357.8 130.7,360.2 132.2,362.4 133.6,363.6 135.1,364.0 136.6,363.5 138.0,362.2 139.5,361.2 141.0,360.0 142.5,359.2 143.9,358.8 145.4,358.7 146.9,357.5 148.4,355.5 149.8,353.2 151.3,351.6 152.8,350.9 154.2,349.9 155.7,349.0 157.2,346.9 158.7,344.1 160.1,341.1 161.6,335.8 163.1,329.7 164.6,324.0 166.0,322.4 167.5,320.0 169.0,316.8 170.4,313.8 171.9,313.0 173.4,311.6 174.9,309.9 176.3,308.2 177.8,307.2 179.3,305.8 180.7,305.7 182.2,307.5 183.7,308.5 185.2,310.3 186.6,311.7 188.1,313.3 189.6,316.0 191.1,317.9 192.5,318.7 194.0,319.0 195.5,318.3 196.9,317.1 198.4,317.0 199.9,317.6 201.4,318.9 202.8,319.9 204.3,320.7 205.8,321.9 207.3,321.9 208.7,321.4 210.2,321.2 211.7,321.4 213.1,321.1 214.6,321.3 216.1,321.4 217.6,321.5 219.0,320.0 220.5,317.6 222.0,315.1 223.5,313.2 224.9,312.0 226.4,310.5 227.9,309.0 229.3,308.4 230.8,308.6 232.3,309.8 233.8,311.3 235.2,313.4 236.7,314.3 238.2,314.1 239.6,314.4 241.1,316.4 242.6,317.5 244.1,317.9 245.5,316.6 247.0,315.3 248.5,313.8 250.0,312.9 251.4,312.2 252.9,311.4 254.4,311.5 255.8,311.5 257.3,311.8 258.8,310.7 260.3,309.3 261.7,307.7 263.2,305.3 264.7,302.6 266.2,301.3 267.6,301.0 269.1,301.2 270.6,300.8 272.0,300.2 273.5,299.5 275.0,297.7 276.5,295.2 277.9,293.5 279.4,293.0 280.9,292.1 282.4,290.7 283.8,288.2 285.3,285.6 286.8,283.0 288.2,281.3 289.7,279.1 291.2,276.8 292.7,273.8 294.1,270.3 295.6,266.6 297.1,264.5 298.5,263.8 300.0,263.5 301.5,263.0 303.0,263.7 304.4,266.8 305.9,270.2 307.4,272.9 308.9,275.2 310.3,277.5 311.8,280.1 313.3,283.3 314.7,286.4 316.2,289.3 317.7,290.4 319.2,290.6 320.6,290.7 322.1,290.1 323.6,288.0 325.1,284.9 326.5,281.6 328.0,280.1 329.5,277.9 330.9,275.3 332.4,272.2 333.9,269.0 335.4,265.5 336.8,262.6 338.3,262.7 339.8,264.1 341.3,266.2 342.7,268.2 344.2,269.1 345.7,270.2 347.1,270.8 348.6,270.7 350.1,270.1 351.6,268.7 353.0,268.5 354.5,268.9 356.0,269.3 357.4,270.3 358.9,271.4 360.4,271.7 361.9,271.1 363.3,270.0 364.8,268.6 366.3,267.0 367.8,265.1 369.2,263.2 370.7,260.9 372.2,258.6 373.6,256.7 375.1,255.5 376.6,254.4 378.1,252.8 379.5,251.1 381.0,248.8 382.5,245.9 384.0,241.3 385.4,239.2 386.9,237.9 388.4,237.3 389.8,237.6 391.3,238.6 392.8,239.8 394.3,241.3 395.7,243.5 397.2,246.5 398.7,248.8 400.2,250.9 401.6,253.1 403.1,255.3 404.6,257.5 406.0,259.5 407.5,261.5 409.0,261.7 410.5,260.8 411.9,260.4 413.4,260.0 414.9,259.0 416.3,257.7 417.8,256.5 419.3,255.5 420.8,254.2 422.2,252.6 423.7,250.5 425.2,248.1 426.7,246.5 428.1,245.8 429.6,246.0 431.1,246.2 432.5,246.0 434.0,244.5 435.5,242.3 437.0,240.0 438.4,237.4 439.9,237.4 441.4,238.5 442.9,239.3 444.3,240.1 445.8,241.2 447.3,242.8 448.7,242.7 450.2,241.7 451.7,239.8 453.2,237.2 454.6,233.9 456.1,232.6 457.6,230.4 459.1,228.1 460.5,226.1 462.0,223.6 463.5,223.3 464.9,220.5 466.4,216.7 467.9,216.0 469.4,218.4 470.8,220.2 472.3,220.8 473.8,221.2 475.2,222.6 476.7,223.1 478.2,223.0 479.7,222.0 481.1,220.9 482.6,222.2 484.1,223.9 485.6,224.9 487.0,224.9 488.5,223.9 490.0,222.6 491.4,221.8 492.9,220.5 494.4,219.4 495.9,218.7 497.3,218.4 498.8,218.0 500.3,216.4 501.8,214.1 503.2,212.7 504.7,211.1 506.2,209.8 507.6,209.8 509.1,210.4 510.6,211.2 512.1,211.2 513.5,212.0 515.0,213.7 516.5,215.5 518.0,217.5 519.4,219.7 520.9,220.9 522.4,220.9 523.8,220.3 525.3,219.6 526.8,219.2 528.3,218.1 529.7,217.6 531.2,217.2 532.7,216.9 534.1,217.3 535.6,218.0 537.1,219.2 538.6,220.7 540.0,221.2 541.5,220.5 543.0,219.1 544.5,216.9 545.9,214.5 547.4,212.2 548.9,209.6 550.3,208.5 551.8,207.4 553.3,207.4 554.8,207.9 556.2,207.9 557.7,207.4 559.2,206.6 560.7,206.6 562.1,205.0 563.6,199.0 565.1,192.8 566.5,189.6 568.0,188.5 569.5,186.3 571.0,187.4 572.4,189.3 573.9,191.4 575.4,192.3 576.9,192.5 578.3,193.0 579.8,193.0 581.3,193.4 582.7,194.8 584.2,195.7 585.7,196.6 587.2,197.5 588.6,196.8 590.1,195.3 591.6,192.7 593.0,188.5 594.5,183.6 596.0,180.5 597.5,178.8 598.9,178.4 600.4,180.5 601.9,183.0 603.4,185.6 604.8,187.2 606.3,187.9 607.8,187.8 609.2,187.7 610.7,184.9 612.2,180.0 613.7,174.3 615.1,169.0 616.6,165.1 618.1,161.1 619.6,158.0 621.0,156.1 622.5,155.3 624.0,152.8 625.4,148.8 626.9,144.0 628.4,140.2 629.9,137.8 631.3,136.3 632.8,134.4 634.3,132.6 635.8,132.3 637.2,133.2 638.7,134.4 640.2,134.4 641.6,133.4 643.1,135.2 644.6,138.5 646.1,142.7 647.5,147.1 649.0,150.8 650.5,153.1 651.9,156.3 653.4,159.6 654.9,161.2 656.4,161.6 657.8,161.3 659.3,160.4 660.8,159.5 662.3,158.4 663.7,157.0 665.2,155.3 666.7,152.9 668.1,151.1 669.6,147.3 671.1,141.7 672.6,134.6 674.0,130.3 675.5,125.8 677.0,123.9 678.5,123.9 679.9,122.5 681.4,120.2 682.9,117.4 684.3,115.7 685.8,114.7 687.3,114.2 688.8,112.5 690.2,109.1 691.7,105.1 693.2,102.6 694.6,101.2 696.1,98.8 697.6,94.6 699.1,89.7 700.5,87.0 702.0,86.7 703.5,89.6 705.0,94.8 706.4,99.0 707.9,102.1 709.4,105.6 710.8,107.5 712.3,109.4 713.8,110.8 715.3,111.3 716.7,111.4 718.2,111.3 719.7,110.9 721.2,112.0 722.6,112.6 724.1,114.4 725.6,117.3 727.0,120.4 728.5,122.7 730.0,125.7 731.5,127.4 732.9,129.4 734.4,130.9 735.9,132.6 737.4,135.1 738.8,137.8 740.3,139.1 741.8,138.5 743.2,137.6 744.7,135.8 746.2,134.7 747.7,132.1 749.1,129.2 750.6,126.5 752.1,122.5 753.6,116.6 755.0,112.1 756.5,110.2 758.0,109.2 759.4,109.2 760.9,104.4 762.4,97.7 763.9,89.7 765.3,83.6 766.8,78.7 768.3,76.0 769.7,71.6 771.2,69.0 772.7,67.0 774.2,66.4 775.6,66.2 777.1,67.4 778.6,70.0 780.1,75.1 781.5,80.9 783.0,84.8 784.5,87.8 785.9,89.3 787.4,89.3 788.9,88.8 790.4,89.2 791.8,91.1 793.3,91.4 794.8,91.8 796.3,93.4 797.7,95.8 799.2,101.1 800.7,106.9 802.1,113.7 803.6,121.1 805.1,127.9 806.6,135.0 808.0,143.3 809.5,150.7 811.0,154.4 812.5,157.1 813.9,158.2 815.4,160.8 816.9,163.9 818.3,164.4 819.8,164.3 821.3,166.4 822.8,169.8 824.2,174.9 825.7,181.0 827.2,186.4 828.6,187.8 830.1,187.9 831.6,188.3 833.1,189.8 834.5,191.9 836.0,194.6 837.5,195.9 839.0,196.6 840.4,196.2 841.9,194.3 843.4,193.4 844.8,194.2 846.3,195.5 847.8,197.6 849.3,200.2"/>
<line x1="148" y1="296.1" x2="836" y2="52.3" stroke="#e6171c" stroke-width="2.3"/>
<line x1="128" y1="381.3" x2="839.5" y2="122.8" stroke="#e6171c" stroke-width="2.3"/>
<line x1="797.4" y1="91.3" x2="836.5" y2="218.5" stroke="#35803a" stroke-width="2.6"/>
<line x1="800.8" y1="188.6" x2="841.5" y2="242.9" stroke="#35803a" stroke-width="2.6"/>
<line x1="827.3" y1="227.6" x2="859" y2="196" stroke="#9450e0" stroke-width="2.6"/>
</g>
<line x1="826.1" y1="181.9" x2="862.9" y2="176.6" stroke="#9450e0" stroke-width="2.6"/>
<g clip-path="url(#c2)">
<line x1="17" y1="480.5" x2="860" y2="480.5" stroke="#666" stroke-width="1" stroke-dasharray="7,3,2,3"/>
<polyline fill="none" stroke="#c2184b" stroke-width="1.1" stroke-linejoin="round" points="99.8,524.4 101.2,521.9 102.7,518.6 104.2,514.7 105.7,510.3 107.1,505.7 108.6,500.9 110.1,496.4 111.5,492.0 113.0,488.3 114.5,485.2 116.0,482.8 117.4,481.0 118.9,479.4 120.4,478.1 121.8,477.2 123.3,476.5 124.8,476.2 126.3,476.2 127.7,476.8 129.2,477.9 130.7,479.5 132.2,481.4 133.6,483.0 135.1,484.2 136.6,485.0 138.0,485.0 139.5,484.5 141.0,483.8 142.5,483.0 143.9,482.2 145.4,481.4 146.9,480.3 148.4,478.9 149.8,477.2 151.3,475.4 152.8,473.5 154.2,471.6 155.7,469.5 157.2,467.2 158.7,464.2 160.1,460.6 161.6,456.3 163.1,451.7 164.6,447.1 166.0,442.7 167.5,438.8 169.0,435.2 170.4,431.9 171.9,429.1 173.4,426.6 174.9,424.7 176.3,423.1 177.8,422.1 179.3,421.4 180.7,421.1 182.2,421.0 183.7,421.4 185.2,422.5 186.6,424.1 188.1,426.2 189.6,428.8 191.1,431.5 192.5,434.2 194.0,436.7 195.5,439.0 196.9,441.3 198.4,443.4 199.9,445.5 201.4,447.7 202.8,449.7 204.3,451.8 205.8,453.8 207.3,455.7 208.7,457.3 210.2,458.7 211.7,460.0 213.1,461.1 214.6,462.1 216.1,463.0 217.6,463.6 219.0,463.7 220.5,463.4 222.0,462.9 223.5,462.3 224.9,461.6 226.4,460.9 227.9,460.2 229.3,459.7 230.8,459.5 232.3,459.6 233.8,460.0 235.2,460.6 236.7,461.3 238.2,461.9 239.6,462.8 241.1,464.0 242.6,465.3 244.1,466.7 245.5,467.8 247.0,468.5 248.5,468.9 250.0,469.0 251.4,469.0 252.9,468.9 254.4,468.7 255.8,468.5 257.3,468.4 258.8,468.2 260.3,467.7 261.7,467.1 263.2,466.2 264.7,465.2 266.2,464.1 267.6,463.1 269.1,462.3 270.6,461.5 272.0,461.0 273.5,460.4 275.0,459.8 276.5,458.9 277.9,458.2 279.4,457.5 280.9,456.9 282.4,456.1 283.8,455.2 285.3,454.2 286.8,453.3 288.2,452.4 289.7,451.4 291.2,450.1 292.7,448.6 294.1,447.0 295.6,445.4 297.1,443.8 298.5,442.6 300.0,441.6 301.5,441.0 303.0,441.0 304.4,441.6 305.9,442.9 307.4,444.8 308.9,447.2 310.3,449.9 311.8,452.9 313.3,456.0 314.7,459.1 316.2,462.1 317.7,465.0 319.2,467.4 320.6,469.4 322.1,471.0 323.6,472.1 325.1,472.4 326.5,472.0 328.0,471.1 329.5,469.6 330.9,467.8 332.4,465.8 333.9,463.8 335.4,462.0 336.8,460.5 338.3,459.5 339.8,458.9 341.3,458.9 342.7,459.2 344.2,459.8 345.7,460.6 347.1,461.4 348.6,461.9 350.1,462.3 351.6,462.8 353.0,463.3 354.5,464.0 356.0,464.8 357.4,465.6 358.9,466.3 360.4,467.0 361.9,467.4 363.3,467.5 364.8,467.4 366.3,467.1 367.8,466.7 369.2,466.0 370.7,465.1 372.2,464.1 373.6,463.2 375.1,462.4 376.6,461.6 378.1,460.7 379.5,459.7 381.0,458.6 382.5,457.2 384.0,455.8 385.4,454.5 386.9,453.3 388.4,452.2 389.8,451.5 391.3,451.4 392.8,451.8 394.3,452.5 395.7,453.5 397.2,454.9 398.7,456.5 400.2,458.4 401.6,460.5 403.1,462.7 404.6,465.0 406.0,467.2 407.5,469.2 409.0,471.1 410.5,472.7 411.9,474.0 413.4,475.0 414.9,475.8 416.3,476.3 417.8,476.6 419.3,476.7 420.8,476.5 422.2,476.1 423.7,475.4 425.2,474.6 426.7,473.7 428.1,472.8 429.6,472.0 431.1,471.3 432.5,470.6 434.0,469.9 435.5,469.1 437.0,468.3 438.4,467.6 439.9,467.1 441.4,466.8 442.9,466.8 444.3,467.0 445.8,467.3 447.3,467.6 448.7,467.9 450.2,468.2 451.7,468.2 453.2,467.8 454.6,467.2 456.1,466.5 457.6,465.8 459.1,465.1 460.5,464.4 462.0,463.4 463.5,462.3 464.9,461.2 466.4,460.0 467.9,459.1 469.4,458.8 470.8,458.7 472.3,458.8 473.8,458.9 475.2,459.0 476.7,459.2 478.2,459.4 479.7,459.7 481.1,460.2 482.6,460.9 484.1,461.8 485.6,462.7 487.0,463.6 488.5,464.2 490.0,464.7 491.4,465.0 492.9,465.2 494.4,465.3 495.9,465.4 497.3,465.4 498.8,465.3 500.3,465.1 501.8,464.8 503.2,464.5 504.7,464.2 506.2,463.9 507.6,463.7 509.1,463.8 510.6,464.2 512.1,464.7 513.5,465.4 515.0,466.2 516.5,467.2 518.0,468.2 519.4,469.4 520.9,470.4 522.4,471.4 523.8,472.2 525.3,472.7 526.8,473.0 528.3,473.2 529.7,473.4 531.2,473.7 532.7,474.0 534.1,474.3 535.6,474.6 537.1,474.9 538.6,475.3 540.0,475.7 541.5,476.0 543.0,476.2 544.5,476.1 545.9,475.8 547.4,475.3 548.9,474.6 550.3,473.8 551.8,473.0 553.3,472.4 554.8,471.8 556.2,471.4 557.7,471.0 559.2,470.6 560.7,470.3 562.1,469.7 563.6,468.4 565.1,466.9 566.5,465.3 568.0,463.8 569.5,462.6 571.0,461.6 572.4,461.1 573.9,460.8 575.4,460.8 576.9,461.0 578.3,461.2 579.8,461.4 581.3,461.7 582.7,462.2 584.2,462.9 585.7,463.7 587.2,464.5 588.6,465.1 590.1,465.6 591.6,465.4 593.0,464.8 594.5,464.0 596.0,463.0 597.5,462.1 598.9,461.4 600.4,461.1 601.9,461.3 603.4,461.8 604.8,462.4 606.3,463.0 607.8,463.7 609.2,464.3 610.7,464.6 612.2,464.4 613.7,463.8 615.1,462.8 616.6,461.4 618.1,459.8 619.6,458.2 621.0,456.6 622.5,455.3 624.0,454.0 625.4,452.6 626.9,451.2 628.4,449.8 629.9,448.3 631.3,447.1 632.8,446.1 634.3,445.5 635.8,445.2 637.2,445.3 638.7,445.6 640.2,446.1 641.6,446.7 643.1,447.3 644.6,448.3 646.1,449.9 647.5,451.8 649.0,454.0 650.5,456.5 651.9,458.9 653.4,461.2 654.9,463.4 656.4,465.5 657.8,467.2 659.3,468.8 660.8,470.1 662.3,471.1 663.7,471.9 665.2,472.4 666.7,472.6 668.1,472.4 669.6,471.7 671.1,470.5 672.6,468.8 674.0,467.0 675.5,465.0 677.0,463.1 678.5,461.3 679.9,459.8 681.4,458.6 682.9,457.5 684.3,456.7 685.8,456.0 687.3,455.5 688.8,454.8 690.2,454.1 691.7,453.5 693.2,452.8 694.6,452.2 696.1,451.5 697.6,450.7 699.1,449.9 700.5,449.0 702.0,448.5 703.5,448.5 705.0,449.3 706.4,450.4 707.9,451.9 709.4,453.6 710.8,455.4 712.3,457.2 713.8,459.0 715.3,460.8 716.7,462.4 718.2,463.9 719.7,465.4 721.2,467.0 722.6,468.7 724.1,470.4 725.6,472.0 727.0,473.6 728.5,475.1 730.0,476.6 731.5,478.1 732.9,479.5 734.4,480.8 735.9,482.1 737.4,483.4 738.8,484.7 740.3,485.7 741.8,486.5 743.2,486.9 744.7,487.1 746.2,486.9 747.7,486.5 749.1,485.7 750.6,484.7 752.1,483.5 753.6,482.0 755.0,480.5 756.5,478.8 758.0,477.0 759.4,475.2 760.9,473.2 762.4,471.0 763.9,468.4 765.3,465.9 766.8,463.5 768.3,461.2 769.7,459.1 771.2,457.3 772.7,455.8 774.2,454.6 775.6,453.8 777.1,453.4 778.6,453.5 780.1,454.1 781.5,455.1 783.0,456.5 784.5,458.1 785.9,459.7 787.4,461.4 788.9,462.9 790.4,464.4 791.8,465.9 793.3,467.4 794.8,468.8 796.3,470.2 797.7,471.7 799.2,473.5 800.7,475.7 802.1,478.2 803.6,481.0 805.1,484.2 806.6,487.6 808.0,491.1 809.5,494.6 811.0,497.7 812.5,500.6 813.9,503.2 815.4,505.3 816.9,507.2 818.3,508.9 819.8,510.3 821.3,511.6 822.8,512.9 824.2,514.4 825.7,515.9 827.2,517.5 828.6,518.6 830.1,519.1 831.6,519.4 833.1,519.4 834.5,519.4 836.0,519.5 837.5,519.5 839.0,519.1 840.4,518.6 841.9,517.8 843.4,516.8 844.8,515.8 846.3,514.9 847.8,514.2 849.3,513.6"/>
<polyline fill="none" stroke="#0a0a0a" stroke-width="1.9" stroke-linejoin="round" points="99.8,516.9 101.2,510.4 102.7,503.7 104.2,497.0 105.7,490.7 107.1,484.7 108.6,479.3 110.1,476.0 111.5,472.7 113.0,471.6 114.5,471.2 116.0,472.0 117.4,472.7 118.9,472.5 120.4,472.3 121.8,472.9 123.3,473.6 124.8,474.8 126.3,476.3 127.7,479.3 129.2,483.1 130.7,486.8 132.2,489.5 133.6,490.3 135.1,489.9 136.6,488.4 138.0,485.2 139.5,482.1 141.0,480.7 142.5,479.2 143.9,478.5 145.4,477.9 146.9,475.6 148.4,472.2 149.8,469.8 151.3,467.4 152.8,465.1 154.2,462.8 155.7,460.1 157.2,456.9 158.7,450.8 160.1,444.3 161.6,437.1 163.1,430.6 164.6,426.5 166.0,422.9 167.5,421.0 169.0,419.1 170.4,417.2 171.9,416.2 173.4,415.7 174.9,415.8 176.3,416.3 177.8,417.2 179.3,418.4 180.7,419.6 182.2,420.6 183.7,423.5 185.2,427.2 186.6,431.4 188.1,435.8 189.6,440.4 191.1,443.7 192.5,446.4 194.0,448.0 195.5,449.5 196.9,451.2 198.4,453.2 199.9,455.1 201.4,457.2 202.8,459.2 204.3,461.1 205.8,463.0 207.3,463.8 208.7,464.5 210.2,465.1 211.7,465.7 213.1,466.3 214.6,466.7 216.1,466.7 217.6,466.3 219.0,464.2 220.5,462.0 222.0,460.7 223.5,459.4 224.9,458.5 226.4,457.7 227.9,456.9 229.3,457.5 230.8,458.6 232.3,460.0 233.8,461.8 235.2,463.4 236.7,464.2 238.2,464.9 239.6,467.0 241.1,469.1 242.6,471.1 244.1,473.0 245.5,472.6 247.0,471.9 248.5,470.8 250.0,469.6 251.4,468.8 252.9,468.3 254.4,467.9 255.8,467.7 257.3,467.7 258.8,467.2 260.3,465.7 261.7,464.3 263.2,462.4 264.7,460.6 266.2,459.2 267.6,458.8 269.1,458.4 270.6,458.3 272.0,458.3 273.5,458.1 275.0,456.7 276.5,455.2 277.9,454.8 279.4,454.5 280.9,454.1 282.4,452.6 283.8,451.2 285.3,449.8 286.8,449.1 288.2,448.3 289.7,447.0 291.2,444.4 292.7,441.8 294.1,439.7 295.6,438.0 297.1,436.8 298.5,437.0 300.0,437.2 301.5,438.6 303.0,441.0 304.4,444.1 305.9,448.8 307.4,453.5 308.9,457.9 310.3,462.2 311.8,466.1 313.3,469.8 314.7,473.1 316.2,475.7 317.7,477.8 319.2,478.2 320.6,478.7 322.1,478.2 323.6,477.1 325.1,473.7 326.5,470.4 328.0,466.7 329.5,463.0 330.9,459.8 332.4,456.8 333.9,454.7 335.4,454.0 336.8,453.4 338.3,455.0 339.8,456.5 341.3,458.6 342.7,460.8 344.2,462.6 345.7,464.0 347.1,464.9 348.6,464.4 350.1,464.1 351.6,464.9 353.0,465.8 354.5,467.1 356.0,468.4 357.4,469.2 358.9,469.7 360.4,469.8 361.9,469.0 363.3,468.3 364.8,467.1 366.3,465.8 367.8,464.5 369.2,462.8 370.7,461.1 372.2,459.8 373.6,459.2 375.1,458.6 376.6,457.8 378.1,456.6 379.5,455.4 381.0,453.5 382.5,451.2 384.0,449.6 385.4,448.6 386.9,447.7 388.4,447.4 389.8,448.3 391.3,451.0 392.8,453.3 394.3,455.6 395.7,458.2 397.2,461.1 398.7,464.0 400.2,466.9 401.6,469.8 403.1,472.5 404.6,475.2 406.0,477.0 407.5,478.5 409.0,479.4 410.5,479.7 411.9,479.9 413.4,479.6 414.9,479.3 416.3,478.8 417.8,478.0 419.3,477.1 420.8,475.8 422.2,474.0 423.7,472.3 425.2,471.0 426.7,469.6 428.1,468.8 429.6,468.5 431.1,468.1 432.5,467.4 434.0,466.7 435.5,465.6 437.0,464.5 438.4,464.5 439.9,464.8 441.4,465.6 442.9,466.8 444.3,467.9 445.8,468.6 447.3,469.3 448.7,469.3 450.2,469.3 451.7,468.0 453.2,466.1 454.6,464.6 456.1,463.5 457.6,462.6 459.1,461.8 460.5,461.1 462.0,459.3 463.5,457.4 464.9,455.9 466.4,454.7 467.9,454.9 469.4,457.3 470.8,458.6 472.3,459.0 473.8,459.4 475.2,459.7 476.7,460.0 478.2,460.5 479.7,460.9 481.1,462.4 482.6,464.2 484.1,465.6 485.6,466.8 487.0,467.6 488.5,467.2 490.0,466.7 491.4,466.4 492.9,466.2 494.4,465.9 495.9,465.6 497.3,465.2 498.8,464.8 500.3,464.2 501.8,463.7 503.2,463.2 504.7,462.8 506.2,462.4 507.6,463.1 509.1,464.3 510.6,465.6 512.1,467.1 513.5,468.5 515.0,470.0 516.5,471.5 518.0,472.9 519.4,474.4 520.9,475.3 522.4,475.7 523.8,475.7 525.3,475.0 526.8,474.3 528.3,474.2 529.7,474.6 531.2,474.9 532.7,475.2 534.1,475.6 535.6,475.9 537.1,476.5 538.6,477.1 540.0,477.7 541.5,477.2 543.0,476.8 544.5,475.8 545.9,474.6 547.4,473.2 548.9,471.4 550.3,469.9 551.8,469.7 553.3,469.4 554.8,469.3 556.2,469.3 557.7,469.3 559.2,469.0 560.7,468.6 562.1,467.1 563.6,462.9 565.1,460.1 566.5,457.9 568.0,457.3 569.5,456.9 571.0,457.5 572.4,458.6 573.9,459.7 575.4,460.8 576.9,461.7 578.3,462.0 579.8,462.3 581.3,463.3 582.7,464.5 584.2,465.9 585.7,467.3 587.2,468.2 588.6,467.9 590.1,467.5 591.6,464.8 593.0,462.2 594.5,460.3 596.0,458.5 597.5,457.9 598.9,458.2 600.4,459.9 601.9,462.1 603.4,463.8 604.8,465.0 606.3,466.1 607.8,466.6 609.2,467.1 610.7,466.1 612.2,463.6 613.7,461.0 615.1,458.1 616.6,455.2 618.1,452.9 619.6,450.7 621.0,449.7 622.5,449.2 624.0,448.2 625.4,446.5 626.9,444.8 628.4,443.3 629.9,441.8 631.3,441.7 632.8,441.7 634.3,442.6 635.8,444.1 637.2,445.5 638.7,447.0 640.2,448.4 641.6,449.1 643.1,449.9 644.6,453.1 646.1,456.7 647.5,460.4 649.0,464.2 650.5,467.4 651.9,469.7 653.4,471.8 654.9,473.2 656.4,474.7 657.8,475.3 659.3,475.7 660.8,476.0 662.3,475.6 663.7,475.3 665.2,474.8 666.7,473.3 668.1,471.9 669.6,468.4 671.1,464.8 672.6,461.6 674.0,458.6 675.5,456.2 677.0,454.7 678.5,453.3 679.9,453.1 681.4,452.9 682.9,452.7 684.3,452.9 685.8,453.2 687.3,452.9 688.8,452.0 690.2,451.0 691.7,450.4 693.2,449.9 694.6,449.4 696.1,448.4 697.6,447.3 699.1,446.2 700.5,445.1 702.0,446.1 703.5,448.7 705.0,452.6 706.4,455.6 707.9,458.5 709.4,461.1 710.8,463.6 712.3,465.6 713.8,467.1 715.3,468.5 716.7,469.6 718.2,470.6 719.7,472.4 721.2,474.3 722.6,476.1 724.1,477.9 725.6,479.5 727.0,480.7 728.5,481.9 730.0,483.3 731.5,484.8 732.9,485.9 734.4,486.9 735.9,488.0 737.4,489.2 738.8,490.1 740.3,490.5 741.8,490.1 743.2,488.9 744.7,487.6 746.2,486.1 747.7,484.5 749.1,482.3 750.6,480.1 752.1,477.9 753.6,475.7 755.0,473.5 756.5,471.2 758.0,469.0 759.4,466.9 760.9,464.5 762.4,460.8 763.9,457.1 765.3,454.7 766.8,452.5 768.3,450.9 769.7,449.8 771.2,449.0 772.7,449.0 774.2,449.1 775.6,450.3 777.1,451.5 778.6,454.1 780.1,456.8 781.5,459.8 783.0,462.7 784.5,465.0 785.9,467.2 787.4,468.8 788.9,469.9 790.4,471.1 791.8,472.5 793.3,474.0 794.8,475.2 796.3,476.3 797.7,478.7 799.2,481.5 800.7,485.5 802.1,489.6 803.6,493.9 805.1,498.3 806.6,502.9 808.0,506.7 809.5,510.2 811.0,512.0 812.5,513.7 813.9,514.5 815.4,515.1 816.9,515.8 818.3,516.2 819.8,516.6 821.3,517.7 822.8,518.9 824.2,520.7 825.7,522.9 827.2,524.5 828.6,523.6 830.1,521.6 831.6,520.5 833.1,519.5 834.5,519.6 836.0,519.9 837.5,519.2 839.0,517.7 840.4,516.1 841.9,514.2 843.4,512.3 844.8,511.4 846.3,510.7 847.8,510.9 849.3,511.0"/>
</g>
<rect x="16.5" y="28.5" width="843" height="364" fill="none" stroke="#5f5a52" stroke-width="1"/>
<rect x="16.5" y="406.5" width="843" height="128" fill="none" stroke="#5f5a52" stroke-width="1"/>
<line x1="860" y1="379.5" x2="861.3" y2="379.5" stroke="#5f5a52" stroke-width="1"/>
<line x1="860" y1="374.5" x2="861.3" y2="374.5" stroke="#5f5a52" stroke-width="1"/>
<line x1="860" y1="369.5" x2="863.0" y2="369.5" stroke="#5f5a52" stroke-width="1"/>
<line x1="860" y1="364.5" x2="861.3" y2="364.5" stroke="#5f5a52" stroke-width="1"/>
<line x1="860" y1="360.5" x2="861.3" y2="360.5" stroke="#5f5a52" stroke-width="1"/>
<line x1="860" y1="355.5" x2="861.3" y2="355.5" stroke="#5f5a52" stroke-width="1"/>
<line x1="860" y1="350.5" x2="861.3" y2="350.5" stroke="#5f5a52" stroke-width="1"/>
<line x1="860" y1="345.5" x2="863.0" y2="345.5" stroke="#5f5a52" stroke-width="1"/>
<line x1="860" y1="340.5" x2="861.3" y2="340.5" stroke="#5f5a52" stroke-width="1"/>
<line x1="860" y1="335.5" x2="861.3" y2="335.5" stroke="#5f5a52" stroke-width="1"/>
<line x1="860" y1="330.5" x2="861.3" y2="330.5" stroke="#5f5a52" stroke-width="1"/>
<line x1="860" y1="325.5" x2="861.3" y2="325.5" stroke="#5f5a52" stroke-width="1"/>
<line x1="860" y1="320.5" x2="863.0" y2="320.5" stroke="#5f5a52" stroke-width="1"/>
<line x1="860" y1="315.5" x2="861.3" y2="315.5" stroke="#5f5a52" stroke-width="1"/>
<line x1="860" y1="310.5" x2="861.3" y2="310.5" stroke="#5f5a52" stroke-width="1"/>
<line x1="860" y1="305.5" x2="861.3" y2="305.5" stroke="#5f5a52" stroke-width="1"/>
<line x1="860" y1="300.5" x2="861.3" y2="300.5" stroke="#5f5a52" stroke-width="1"/>
<line x1="860" y1="295.5" x2="863.0" y2="295.5" stroke="#5f5a52" stroke-width="1"/>
<line x1="860" y1="290.5" x2="861.3" y2="290.5" stroke="#5f5a52" stroke-width="1"/>
<line x1="860" y1="286.5" x2="861.3" y2="286.5" stroke="#5f5a52" stroke-width="1"/>
<line x1="860" y1="281.5" x2="861.3" y2="281.5" stroke="#5f5a52" stroke-width="1"/>
<line x1="860" y1="276.5" x2="861.3" y2="276.5" stroke="#5f5a52" stroke-width="1"/>
<line x1="860" y1="271.5" x2="863.0" y2="271.5" stroke="#5f5a52" stroke-width="1"/>
<line x1="860" y1="266.5" x2="861.3" y2="266.5" stroke="#5f5a52" stroke-width="1"/>
<line x1="860" y1="261.5" x2="861.3" y2="261.5" stroke="#5f5a52" stroke-width="1"/>
<line x1="860" y1="256.5" x2="861.3" y2="256.5" stroke="#5f5a52" stroke-width="1"/>
<line x1="860" y1="251.5" x2="861.3" y2="251.5" stroke="#5f5a52" stroke-width="1"/>
<line x1="860" y1="246.5" x2="863.0" y2="246.5" stroke="#5f5a52" stroke-width="1"/>
<line x1="860" y1="241.5" x2="861.3" y2="241.5" stroke="#5f5a52" stroke-width="1"/>
<line x1="860" y1="236.5" x2="861.3" y2="236.5" stroke="#5f5a52" stroke-width="1"/>
<line x1="860" y1="231.5" x2="861.3" y2="231.5" stroke="#5f5a52" stroke-width="1"/>
<line x1="860" y1="226.5" x2="861.3" y2="226.5" stroke="#5f5a52" stroke-width="1"/>
<line x1="860" y1="221.5" x2="863.0" y2="221.5" stroke="#5f5a52" stroke-width="1"/>
<line x1="860" y1="216.5" x2="861.3" y2="216.5" stroke="#5f5a52" stroke-width="1"/>
<line x1="860" y1="212.5" x2="861.3" y2="212.5" stroke="#5f5a52" stroke-width="1"/>
<line x1="860" y1="207.5" x2="861.3" y2="207.5" stroke="#5f5a52" stroke-width="1"/>
<line x1="860" y1="202.5" x2="861.3" y2="202.5" stroke="#5f5a52" stroke-width="1"/>
<line x1="860" y1="197.5" x2="863.0" y2="197.5" stroke="#5f5a52" stroke-width="1"/>
<line x1="860" y1="192.5" x2="861.3" y2="192.5" stroke="#5f5a52" stroke-width="1"/>
<line x1="860" y1="187.5" x2="861.3" y2="187.5" stroke="#5f5a52" stroke-width="1"/>
<line x1="860" y1="182.5" x2="861.3" y2="182.5" stroke="#5f5a52" stroke-width="1"/>
<line x1="860" y1="177.5" x2="861.3" y2="177.5" stroke="#5f5a52" stroke-width="1"/>
<line x1="860" y1="172.5" x2="863.0" y2="172.5" stroke="#5f5a52" stroke-width="1"/>
<line x1="860" y1="167.5" x2="861.3" y2="167.5" stroke="#5f5a52" stroke-width="1"/>
<line x1="860" y1="162.5" x2="861.3" y2="162.5" stroke="#5f5a52" stroke-width="1"/>
<line x1="860" y1="157.5" x2="861.3" y2="157.5" stroke="#5f5a52" stroke-width="1"/>
<line x1="860" y1="152.5" x2="861.3" y2="152.5" stroke="#5f5a52" stroke-width="1"/>
<line x1="860" y1="147.5" x2="863.0" y2="147.5" stroke="#5f5a52" stroke-width="1"/>
<line x1="860" y1="142.5" x2="861.3" y2="142.5" stroke="#5f5a52" stroke-width="1"/>
<line x1="860" y1="138.5" x2="861.3" y2="138.5" stroke="#5f5a52" stroke-width="1"/>
<line x1="860" y1="133.5" x2="861.3" y2="133.5" stroke="#5f5a52" stroke-width="1"/>
<line x1="860" y1="128.5" x2="861.3" y2="128.5" stroke="#5f5a52" stroke-width="1"/>
<line x1="860" y1="123.5" x2="863.0" y2="123.5" stroke="#5f5a52" stroke-width="1"/>
<line x1="860" y1="118.5" x2="861.3" y2="118.5" stroke="#5f5a52" stroke-width="1"/>
<line x1="860" y1="113.5" x2="861.3" y2="113.5" stroke="#5f5a52" stroke-width="1"/>
<line x1="860" y1="108.5" x2="861.3" y2="108.5" stroke="#5f5a52" stroke-width="1"/>
<line x1="860" y1="103.5" x2="861.3" y2="103.5" stroke="#5f5a52" stroke-width="1"/>
<line x1="860" y1="98.5" x2="863.0" y2="98.5" stroke="#5f5a52" stroke-width="1"/>
<line x1="860" y1="93.5" x2="861.3" y2="93.5" stroke="#5f5a52" stroke-width="1"/>
<line x1="860" y1="88.5" x2="861.3" y2="88.5" stroke="#5f5a52" stroke-width="1"/>
<line x1="860" y1="83.5" x2="861.3" y2="83.5" stroke="#5f5a52" stroke-width="1"/>
<line x1="860" y1="78.5" x2="861.3" y2="78.5" stroke="#5f5a52" stroke-width="1"/>
<line x1="860" y1="73.5" x2="863.0" y2="73.5" stroke="#5f5a52" stroke-width="1"/>
<line x1="860" y1="68.5" x2="861.3" y2="68.5" stroke="#5f5a52" stroke-width="1"/>
<line x1="860" y1="64.5" x2="861.3" y2="64.5" stroke="#5f5a52" stroke-width="1"/>
<line x1="860" y1="59.5" x2="861.3" y2="59.5" stroke="#5f5a52" stroke-width="1"/>
<line x1="860" y1="54.5" x2="861.3" y2="54.5" stroke="#5f5a52" stroke-width="1"/>
<line x1="860" y1="49.5" x2="863.0" y2="49.5" stroke="#5f5a52" stroke-width="1"/>
<line x1="860" y1="44.5" x2="861.3" y2="44.5" stroke="#5f5a52" stroke-width="1"/>
<line x1="860" y1="39.5" x2="861.3" y2="39.5" stroke="#5f5a52" stroke-width="1"/>
<line x1="860" y1="34.5" x2="861.3" y2="34.5" stroke="#5f5a52" stroke-width="1"/>
<text x="879.8" y="372.0" font-size="10" text-anchor="end">50</text>
<text x="879.8" y="348.0" font-size="10" text-anchor="end">60</text>
<text x="879.8" y="323.0" font-size="10" text-anchor="end">70</text>
<text x="879.8" y="298.0" font-size="10" text-anchor="end">80</text>
<text x="879.8" y="274.0" font-size="10" text-anchor="end">90</text>
<text x="879.8" y="249.0" font-size="10" text-anchor="end">100</text>
<text x="879.8" y="224.0" font-size="10" text-anchor="end">110</text>
<text x="879.8" y="200.0" font-size="10" text-anchor="end">120</text>
<text x="879.8" y="175.0" font-size="10" text-anchor="end">130</text>
<text x="879.8" y="150.0" font-size="10" text-anchor="end">140</text>
<text x="879.8" y="126.0" font-size="10" text-anchor="end">150</text>
<text x="879.8" y="101.0" font-size="10" text-anchor="end">160</text>
<text x="879.8" y="76.0" font-size="10" text-anchor="end">170</text>
<text x="879.8" y="52.0" font-size="10" text-anchor="end">180</text>
<line x1="860" y1="417.5" x2="863" y2="417.5" stroke="#5f5a52" stroke-width="1"/>
<text x="883.2" y="420.0" font-size="10" text-anchor="end">10.0</text>
<line x1="860" y1="432.5" x2="863" y2="432.5" stroke="#5f5a52" stroke-width="1"/>
<text x="883.2" y="435.0" font-size="10" text-anchor="end">7.5</text>
<line x1="860" y1="448.5" x2="863" y2="448.5" stroke="#5f5a52" stroke-width="1"/>
<text x="883.2" y="451.0" font-size="10" text-anchor="end">5.0</text>
<line x1="860" y1="464.5" x2="863" y2="464.5" stroke="#5f5a52" stroke-width="1"/>
<text x="883.2" y="467.0" font-size="10" text-anchor="end">2.5</text>
<line x1="860" y1="480.5" x2="863" y2="480.5" stroke="#5f5a52" stroke-width="1"/>
<text x="883.2" y="483.0" font-size="10" text-anchor="end">0.0</text>
<line x1="860" y1="495.5" x2="863" y2="495.5" stroke="#5f5a52" stroke-width="1"/>
<text x="883.2" y="498.0" font-size="10" text-anchor="end">-2.5</text>
<line x1="860" y1="511.5" x2="863" y2="511.5" stroke="#5f5a52" stroke-width="1"/>
<text x="883.2" y="514.0" font-size="10" text-anchor="end">-5.0</text>
<line x1="860" y1="527.5" x2="863" y2="527.5" stroke="#5f5a52" stroke-width="1"/>
<text x="883.2" y="530.0" font-size="10" text-anchor="end">-7.5</text>
<text x="17.7" y="403.0" font-size="10" text-anchor="middle">78</text>
<text x="17.7" y="544.5" font-size="10" text-anchor="middle">78</text>
<line x1="18.5" y1="392" x2="18.5" y2="395" stroke="#5f5a52" stroke-width="1"/>
<line x1="18.5" y1="534" x2="18.5" y2="537" stroke="#5f5a52" stroke-width="1"/>
<text x="53.0" y="403.0" font-size="10" text-anchor="middle">80</text>
<text x="53.0" y="544.5" font-size="10" text-anchor="middle">80</text>
<line x1="53.5" y1="392" x2="53.5" y2="395" stroke="#5f5a52" stroke-width="1"/>
<line x1="53.5" y1="534" x2="53.5" y2="537" stroke="#5f5a52" stroke-width="1"/>
<text x="88.4" y="403.0" font-size="10" text-anchor="middle">82</text>
<text x="88.4" y="544.5" font-size="10" text-anchor="middle">82</text>
<line x1="88.5" y1="392" x2="88.5" y2="395" stroke="#5f5a52" stroke-width="1"/>
<line x1="88.5" y1="534" x2="88.5" y2="537" stroke="#5f5a52" stroke-width="1"/>
<text x="123.7" y="403.0" font-size="10" text-anchor="middle">84</text>
<text x="123.7" y="544.5" font-size="10" text-anchor="middle">84</text>
<line x1="124.5" y1="392" x2="124.5" y2="395" stroke="#5f5a52" stroke-width="1"/>
<line x1="124.5" y1="534" x2="124.5" y2="537" stroke="#5f5a52" stroke-width="1"/>
<text x="159.1" y="403.0" font-size="10" text-anchor="middle">86</text>
<text x="159.1" y="544.5" font-size="10" text-anchor="middle">86</text>
<line x1="159.5" y1="392" x2="159.5" y2="395" stroke="#5f5a52" stroke-width="1"/>
<line x1="159.5" y1="534" x2="159.5" y2="537" stroke="#5f5a52" stroke-width="1"/>
<text x="194.4" y="403.0" font-size="10" text-anchor="middle">88</text>
<text x="194.4" y="544.5" font-size="10" text-anchor="middle">88</text>
<line x1="195.5" y1="392" x2="195.5" y2="395" stroke="#5f5a52" stroke-width="1"/>
<line x1="195.5" y1="534" x2="195.5" y2="537" stroke="#5f5a52" stroke-width="1"/>
<text x="229.7" y="403.0" font-size="10" text-anchor="middle">90</text>
<text x="229.7" y="544.5" font-size="10" text-anchor="middle">90</text>
<line x1="230.5" y1="392" x2="230.5" y2="395" stroke="#5f5a52" stroke-width="1"/>
<line x1="230.5" y1="534" x2="230.5" y2="537" stroke="#5f5a52" stroke-width="1"/>
<text x="265.1" y="403.0" font-size="10" text-anchor="middle">92</text>
<text x="265.1" y="544.5" font-size="10" text-anchor="middle">92</text>
<line x1="265.5" y1="392" x2="265.5" y2="395" stroke="#5f5a52" stroke-width="1"/>
<line x1="265.5" y1="534" x2="265.5" y2="537" stroke="#5f5a52" stroke-width="1"/>
<text x="300.4" y="403.0" font-size="10" text-anchor="middle">94</text>
<text x="300.4" y="544.5" font-size="10" text-anchor="middle">94</text>
<line x1="301.5" y1="392" x2="301.5" y2="395" stroke="#5f5a52" stroke-width="1"/>
<line x1="301.5" y1="534" x2="301.5" y2="537" stroke="#5f5a52" stroke-width="1"/>
<text x="335.8" y="403.0" font-size="10" text-anchor="middle">96</text>
<text x="335.8" y="544.5" font-size="10" text-anchor="middle">96</text>
<line x1="336.5" y1="392" x2="336.5" y2="395" stroke="#5f5a52" stroke-width="1"/>
<line x1="336.5" y1="534" x2="336.5" y2="537" stroke="#5f5a52" stroke-width="1"/>
<text x="371.1" y="403.0" font-size="10" text-anchor="middle">98</text>
<text x="371.1" y="544.5" font-size="10" text-anchor="middle">98</text>
<line x1="371.5" y1="392" x2="371.5" y2="395" stroke="#5f5a52" stroke-width="1"/>
<line x1="371.5" y1="534" x2="371.5" y2="537" stroke="#5f5a52" stroke-width="1"/>
<text x="406.4" y="403.0" font-size="10" text-anchor="middle">00</text>
<text x="406.4" y="544.5" font-size="10" text-anchor="middle">00</text>
<line x1="407.5" y1="392" x2="407.5" y2="395" stroke="#5f5a52" stroke-width="1"/>
<line x1="407.5" y1="534" x2="407.5" y2="537" stroke="#5f5a52" stroke-width="1"/>
<text x="441.8" y="403.0" font-size="10" text-anchor="middle">02</text>
<text x="441.8" y="544.5" font-size="10" text-anchor="middle">02</text>
<line x1="442.5" y1="392" x2="442.5" y2="395" stroke="#5f5a52" stroke-width="1"/>
<line x1="442.5" y1="534" x2="442.5" y2="537" stroke="#5f5a52" stroke-width="1"/>
<text x="477.1" y="403.0" font-size="10" text-anchor="middle">04</text>
<text x="477.1" y="544.5" font-size="10" text-anchor="middle">04</text>
<line x1="477.5" y1="392" x2="477.5" y2="395" stroke="#5f5a52" stroke-width="1"/>
<line x1="477.5" y1="534" x2="477.5" y2="537" stroke="#5f5a52" stroke-width="1"/>
<text x="512.5" y="403.0" font-size="10" text-anchor="middle">06</text>
<text x="512.5" y="544.5" font-size="10" text-anchor="middle">06</text>
<line x1="513.5" y1="392" x2="513.5" y2="395" stroke="#5f5a52" stroke-width="1"/>
<line x1="513.5" y1="534" x2="513.5" y2="537" stroke="#5f5a52" stroke-width="1"/>
<text x="547.8" y="403.0" font-size="10" text-anchor="middle">08</text>
<text x="547.8" y="544.5" font-size="10" text-anchor="middle">08</text>
<line x1="548.5" y1="392" x2="548.5" y2="395" stroke="#5f5a52" stroke-width="1"/>
<line x1="548.5" y1="534" x2="548.5" y2="537" stroke="#5f5a52" stroke-width="1"/>
<text x="583.1" y="403.0" font-size="10" text-anchor="middle">10</text>
<text x="583.1" y="544.5" font-size="10" text-anchor="middle">10</text>
<line x1="583.5" y1="392" x2="583.5" y2="395" stroke="#5f5a52" stroke-width="1"/>
<line x1="583.5" y1="534" x2="583.5" y2="537" stroke="#5f5a52" stroke-width="1"/>
<text x="618.5" y="403.0" font-size="10" text-anchor="middle">12</text>
<text x="618.5" y="544.5" font-size="10" text-anchor="middle">12</text>
<line x1="619.5" y1="392" x2="619.5" y2="395" stroke="#5f5a52" stroke-width="1"/>
<line x1="619.5" y1="534" x2="619.5" y2="537" stroke="#5f5a52" stroke-width="1"/>
<text x="653.8" y="403.0" font-size="10" text-anchor="middle">14</text>
<text x="653.8" y="544.5" font-size="10" text-anchor="middle">14</text>
<line x1="654.5" y1="392" x2="654.5" y2="395" stroke="#5f5a52" stroke-width="1"/>
<line x1="654.5" y1="534" x2="654.5" y2="537" stroke="#5f5a52" stroke-width="1"/>
<text x="689.2" y="403.0" font-size="10" text-anchor="middle">16</text>
<text x="689.2" y="544.5" font-size="10" text-anchor="middle">16</text>
<line x1="689.5" y1="392" x2="689.5" y2="395" stroke="#5f5a52" stroke-width="1"/>
<line x1="689.5" y1="534" x2="689.5" y2="537" stroke="#5f5a52" stroke-width="1"/>
<text x="724.5" y="403.0" font-size="10" text-anchor="middle">18</text>
<text x="724.5" y="544.5" font-size="10" text-anchor="middle">18</text>
<line x1="725.5" y1="392" x2="725.5" y2="395" stroke="#5f5a52" stroke-width="1"/>
<line x1="725.5" y1="534" x2="725.5" y2="537" stroke="#5f5a52" stroke-width="1"/>
<text x="759.8" y="403.0" font-size="10" text-anchor="middle">20</text>
<text x="759.8" y="544.5" font-size="10" text-anchor="middle">20</text>
<line x1="760.5" y1="392" x2="760.5" y2="395" stroke="#5f5a52" stroke-width="1"/>
<line x1="760.5" y1="534" x2="760.5" y2="537" stroke="#5f5a52" stroke-width="1"/>
<text x="795.2" y="403.0" font-size="10" text-anchor="middle">22</text>
<text x="795.2" y="544.5" font-size="10" text-anchor="middle">22</text>
<line x1="795.5" y1="392" x2="795.5" y2="395" stroke="#5f5a52" stroke-width="1"/>
<line x1="795.5" y1="534" x2="795.5" y2="537" stroke="#5f5a52" stroke-width="1"/>
<text x="830.5" y="403.0" font-size="10" text-anchor="middle">24</text>
<text x="830.5" y="544.5" font-size="10" text-anchor="middle">24</text>
<line x1="831.5" y1="392" x2="831.5" y2="395" stroke="#5f5a52" stroke-width="1"/>
<line x1="831.5" y1="534" x2="831.5" y2="537" stroke="#5f5a52" stroke-width="1"/>
<text x="16.5" y="13" font-size="13.5" font-weight="bold" textLength="33" lengthAdjust="spacingAndGlyphs">$USB</text>
<text x="53.3" y="13" font-size="11" textLength="245" lengthAdjust="spacingAndGlyphs">CME CBOT 30-Year US Treasury Bond Price (EOD)</text>
<text x="304.5" y="13" font-size="8.5" textLength="23" lengthAdjust="spacingAndGlyphs">INDX</text>
<text x="16.5" y="25.5" font-size="10.2" textLength="58" lengthAdjust="spacingAndGlyphs">16-Jan-2025</text>
<text x="770" y="12.5" font-size="10.5" font-weight="bold" fill="#5c4a36" textLength="89.5" lengthAdjust="spacingAndGlyphs">© StockCharts.com</text>
<text x="480.8" y="25.8" font-size="10.2" font-weight="bold" textLength="28.5" lengthAdjust="spacingAndGlyphs">Open</text>
<text x="513.8" y="25.8" font-size="10.2"  textLength="30.7" lengthAdjust="spacingAndGlyphs">113.97</text>
<text x="551.8" y="25.8" font-size="10.2" font-weight="bold" textLength="23.2" lengthAdjust="spacingAndGlyphs">High</text>
<text x="580.0" y="25.8" font-size="10.2"  textLength="30.8" lengthAdjust="spacingAndGlyphs">113.97</text>
<text x="617.5" y="25.8" font-size="10.2" font-weight="bold" textLength="23.3" lengthAdjust="spacingAndGlyphs">Low</text>
<text x="645.8" y="25.8" font-size="10.2"  textLength="31.2" lengthAdjust="spacingAndGlyphs">111.03</text>
<text x="683.8" y="25.8" font-size="10.2" font-weight="bold" textLength="30.7" lengthAdjust="spacingAndGlyphs">Close</text>
<text x="719.5" y="25.8" font-size="10.2"  textLength="31.0" lengthAdjust="spacingAndGlyphs">112.81</text>
<text x="758.0" y="25.8" font-size="10.2" font-weight="bold" textLength="20.8" lengthAdjust="spacingAndGlyphs">Chg</text>
<text x="783.0" y="25.8" font-size="10.2"  textLength="65.8" lengthAdjust="spacingAndGlyphs">-1.03 (-0.90%)</text>
<polygon points="851.8,21.3 859.3,21.3 855.5,24.8" fill="#a01818"/>
<rect x="18" y="30" width="196" height="11.5" fill="#fff"/>
<rect x="18" y="41.5" width="79" height="11" fill="#fff"/>
<rect x="18" y="52.5" width="84" height="11" fill="#fff"/>
<path d="M20 32 V36.5 M19 32.5 H20 M20 32.8 L22.5 36.2 M22.5 33 V39 M21.2 37.4 L22.5 39.2 L23.8 37.4 M26 31.5 V39 M24.7 37.4 L26 39.2 L27.3 37.4 M24.7 34.5 H26 M26 35.5 H27.3" fill="none" stroke="#111" stroke-width="1" shape-rendering="crispEdges"/>
<text x="31" y="39.3" font-size="10" textLength="180" lengthAdjust="spacingAndGlyphs">$USB (Monthly) 112.81 (16 Jan)</text>
<line x1="19.2" y1="46" x2="27.6" y2="46" stroke="#14531a" stroke-width="2"/>
<text x="28.8" y="50" font-size="10.3" fill="#14531a" textLength="65.7" lengthAdjust="spacingAndGlyphs">EMA(1) 112.81</text>
<line x1="19.2" y1="57" x2="27.6" y2="57" stroke="#6a2fc4" stroke-width="2"/>
<text x="28.8" y="60.8" font-size="10.3" fill="#6a2fc4" textLength="70.7" lengthAdjust="spacingAndGlyphs">EMA(12) 118.43</text>
<rect x="18" y="408" width="171" height="11.5" fill="#fff"/>
<line x1="20" y1="412.5" x2="27.5" y2="412.5" stroke="#111" stroke-width="2.4"/>
<text x="31" y="417" font-size="10.5" textLength="122" lengthAdjust="spacingAndGlyphs">PMO(35,20,10) -5.05,</text>
<text x="158.5" y="417" font-size="10.5" fill="#b01848" textLength="28.5" lengthAdjust="spacingAndGlyphs">-5.44</text>
<rect x="277.3" y="113.3" width="146.0" height="25.0" fill="#70707a" opacity="0.6" filter="url(#sh)"/>
<rect x="275.5" y="111.5" width="146.0" height="25.0" fill="#fff" stroke="#858585" stroke-width="1"/>
<text x="277.8" y="128.4" font-size="15" font-weight="bold" textLength="126.6" lengthAdjust="spacingAndGlyphs">30-Year T-Bonds</text>
<g clip-path="url(#c1)">
<path d="M518.5,269 H644.5 L802,138.5 L650,273.5 V306 H518.5 Z" fill="#70707a" opacity="0.6" filter="url(#sh)"/>
<path d="M516.5,266.5 H641 L800,136 L647.5,271.5 V303.5 H516.5 Z" fill="#fff" stroke="#7c7c7c" stroke-width="1.25" stroke-linejoin="round"/>
</g>
<text x="518.9" y="281.8" font-size="13.2" font-weight="bold" fill="#0808cc" textLength="117.7" lengthAdjust="spacingAndGlyphs">Long-Term Trend</text>
<text x="518.9" y="297.6" font-size="13.2" font-weight="bold" fill="#0808cc" textLength="120.5" lengthAdjust="spacingAndGlyphs">Has Been Broken</text>
<rect x="584.3" y="491.3" width="47.5" height="22.0" fill="#70707a" opacity="0.6" filter="url(#sh)"/>
<rect x="582.5" y="489.5" width="47.5" height="22.0" fill="#fff" stroke="#858585" stroke-width="1"/>
<text x="585.8" y="504.8" font-size="13.2" font-weight="bold" textLength="31.3" lengthAdjust="spacingAndGlyphs">PMO</text>
<polygon points="858,200.2 861.5,195.3 896.7,195.3 896.7,205.1 861.5,205.1" fill="#fff" stroke="#8a4fd8" stroke-width="1.4"/>
<text x="862.4" y="203.8" font-size="10.3" textLength="31.8" lengthAdjust="spacingAndGlyphs">118.43</text>
<polygon points="857.4,214.8 861.2,209.7 896.9,209.7 896.9,219.8 861.2,219.8" fill="#fff" stroke="#111" stroke-width="1.4"/>
<text x="862.1" y="218.7" font-size="10.5" font-weight="bold" textLength="32.1" lengthAdjust="spacingAndGlyphs">112.81</text>
<polygon points="858.5,512.6 861.7,507.5 887.6,507.5 887.6,517.2 861.7,517.2" fill="#fff" stroke="#b01848" stroke-width="1.2"/>
<polygon points="857.5,510.8 861.2,505.7 887.6,505.7 887.6,515.9 861.2,515.9" fill="#fff" stroke="#111" stroke-width="1.3"/>
<text x="862.4" y="513.6" font-size="10" textLength="22.5" lengthAdjust="spacingAndGlyphs">-5.05</text>
</svg></body></html>
